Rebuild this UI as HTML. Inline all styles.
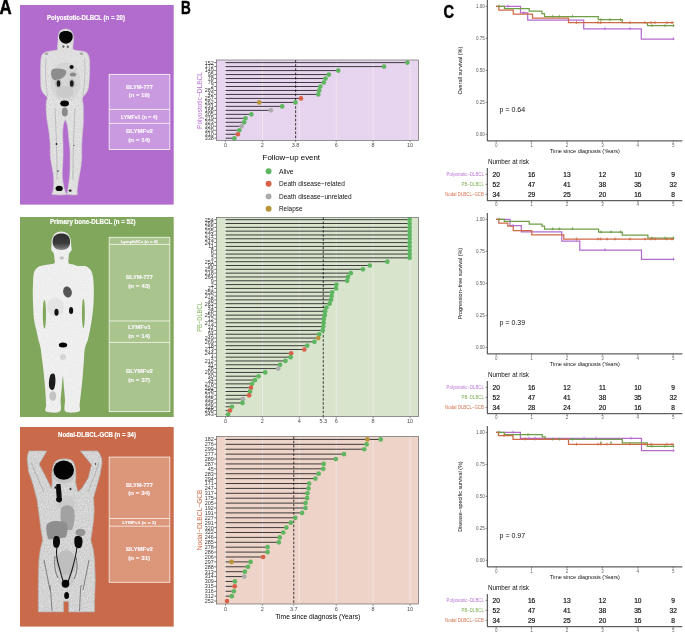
<!DOCTYPE html>
<html><head><meta charset="utf-8"><style>
html,body{margin:0;padding:0;background:#fff;width:685px;height:632px;overflow:hidden;}
svg{display:block;font-family:"Liberation Sans", sans-serif;will-change:transform;}
</style></head><body>
<svg width="685" height="632" viewBox="0 0 685 632">
<rect width="685" height="632" fill="#fff"/>
<text transform="translate(-0.6,13.7) scale(0.86,1)" font-weight="bold" font-size="19.6" fill="#000" stroke="#000" stroke-width="0.5">A</text>
<text transform="translate(180.9,13.8) scale(0.72,1)" font-weight="bold" font-size="18.8" fill="#000" stroke="#000" stroke-width="0.5">B</text>
<text transform="translate(443.6,18.4) scale(0.76,1)" font-weight="bold" font-size="19.2" fill="#000" stroke="#000" stroke-width="0.5">C</text>
<rect x="20" y="5" width="153.7" height="199.6" fill="#B26CCD"/>
<text x="47.1" y="19.8" textLength="77.8" lengthAdjust="spacingAndGlyphs" font-weight="bold" font-size="6.6" fill="#fff" stroke="#fff" stroke-width="0.15">Polyostotic-DLBCL (n = 20)</text>
<rect x="109.2" y="74.4" width="60.60000000000001" height="75.0" fill="#C99ADF" stroke="#f7f0f8" stroke-width="0.9"/>
<line x1="109.2" y1="109.4" x2="169.8" y2="109.4" stroke="#f7f0f8" stroke-width="0.9"/>
<line x1="109.2" y1="123.4" x2="169.8" y2="123.4" stroke="#f7f0f8" stroke-width="0.9"/>
<text x="125.90" y="89.04" textLength="27" lengthAdjust="spacingAndGlyphs" font-weight="bold" font-size="5.4" fill="#fbf6fc" stroke="#fbf6fc" stroke-width="0.12">BLYM-777</text>
<text x="128.70" y="97.14" textLength="21" lengthAdjust="spacingAndGlyphs" font-weight="bold" font-size="5.4" fill="#fbf6fc" stroke="#fbf6fc" stroke-width="0.12">(n = 19)</text>
<text x="120.95" y="118.50" textLength="36.5" lengthAdjust="spacingAndGlyphs" font-weight="bold" font-size="5.0" fill="#fbf6fc" stroke="#fbf6fc" stroke-width="0.12">LYMFv1 (n = 4)</text>
<text x="125.90" y="133.44" textLength="27" lengthAdjust="spacingAndGlyphs" font-weight="bold" font-size="5.4" fill="#fbf6fc" stroke="#fbf6fc" stroke-width="0.12">BLYMFv2</text>
<text x="128.20" y="141.94" textLength="22" lengthAdjust="spacingAndGlyphs" font-weight="bold" font-size="5.4" fill="#fbf6fc" stroke="#fbf6fc" stroke-width="0.12">(n = 14)</text>
<rect x="20" y="217" width="153.7" height="200" fill="#80A75B"/>
<text x="49.9" y="223.9" textLength="85.6" lengthAdjust="spacingAndGlyphs" font-weight="bold" font-size="6.6" fill="#fff" stroke="#fff" stroke-width="0.15">Primary bone-DLBCL (n = 52)</text>
<rect x="109.2" y="237.3" width="60.60000000000001" height="174.3" fill="#A9C48C" stroke="#f0f5ea" stroke-width="0.9"/>
<line x1="109.2" y1="244.4" x2="169.8" y2="244.4" stroke="#f0f5ea" stroke-width="0.9"/>
<line x1="109.2" y1="321" x2="169.8" y2="321" stroke="#f0f5ea" stroke-width="0.9"/>
<line x1="109.2" y1="342.4" x2="169.8" y2="342.4" stroke="#f0f5ea" stroke-width="0.9"/>
<text x="120.70" y="242.50" textLength="37" lengthAdjust="spacingAndGlyphs" font-weight="bold" font-size="3.9" fill="#fbf6fc" stroke="#fbf6fc" stroke-width="0.12">Lymph2Cx (n = 4)</text>
<text x="125.90" y="279.34" textLength="27" lengthAdjust="spacingAndGlyphs" font-weight="bold" font-size="5.4" fill="#fbf6fc" stroke="#fbf6fc" stroke-width="0.12">BLYM-777</text>
<text x="128.20" y="287.64" textLength="22" lengthAdjust="spacingAndGlyphs" font-weight="bold" font-size="5.4" fill="#fbf6fc" stroke="#fbf6fc" stroke-width="0.12">(n = 43)</text>
<text x="127.90" y="328.94" textLength="23" lengthAdjust="spacingAndGlyphs" font-weight="bold" font-size="5.4" fill="#fbf6fc" stroke="#fbf6fc" stroke-width="0.12">LYMFv1</text>
<text x="128.20" y="337.94" textLength="22" lengthAdjust="spacingAndGlyphs" font-weight="bold" font-size="5.4" fill="#fbf6fc" stroke="#fbf6fc" stroke-width="0.12">(n = 14)</text>
<text x="125.90" y="372.94" textLength="27" lengthAdjust="spacingAndGlyphs" font-weight="bold" font-size="5.4" fill="#fbf6fc" stroke="#fbf6fc" stroke-width="0.12">BLYMFv2</text>
<text x="128.20" y="381.54" textLength="22" lengthAdjust="spacingAndGlyphs" font-weight="bold" font-size="5.4" fill="#fbf6fc" stroke="#fbf6fc" stroke-width="0.12">(n = 37)</text>
<rect x="20" y="427" width="153.7" height="199.60000000000002" fill="#C96A4A"/>
<text x="58" y="437.0" textLength="78.0" lengthAdjust="spacingAndGlyphs" font-weight="bold" font-size="6.6" fill="#fff" stroke="#fff" stroke-width="0.15">Nodal-DLBCL-GCB (n = 34)</text>
<rect x="109.2" y="457.1" width="60.60000000000001" height="125.19999999999993" fill="#DC977A" stroke="#f8e9e2" stroke-width="0.9"/>
<line x1="109.2" y1="518.5" x2="169.8" y2="518.5" stroke="#f8e9e2" stroke-width="0.9"/>
<line x1="109.2" y1="526.2" x2="169.8" y2="526.2" stroke="#f8e9e2" stroke-width="0.9"/>
<text x="125.90" y="486.54" textLength="27" lengthAdjust="spacingAndGlyphs" font-weight="bold" font-size="5.4" fill="#fbf6fc" stroke="#fbf6fc" stroke-width="0.12">BLYM-777</text>
<text x="128.20" y="495.34" textLength="22" lengthAdjust="spacingAndGlyphs" font-weight="bold" font-size="5.4" fill="#fbf6fc" stroke="#fbf6fc" stroke-width="0.12">(n = 34)</text>
<text x="122.20" y="523.91" textLength="34" lengthAdjust="spacingAndGlyphs" font-weight="bold" font-size="4.2" fill="#fbf6fc" stroke="#fbf6fc" stroke-width="0.12">LYMFv1 (n = 3)</text>
<text x="125.90" y="550.74" textLength="27" lengthAdjust="spacingAndGlyphs" font-weight="bold" font-size="5.4" fill="#fbf6fc" stroke="#fbf6fc" stroke-width="0.12">BLYMFv2</text>
<text x="128.20" y="559.64" textLength="22" lengthAdjust="spacingAndGlyphs" font-weight="bold" font-size="5.4" fill="#fbf6fc" stroke="#fbf6fc" stroke-width="0.12">(n = 31)</text>
<defs><filter id="tex" x="0" y="0" width="100%" height="100%"><feTurbulence type="fractalNoise" baseFrequency="0.7" numOctaves="2" seed="3"/><feGaussianBlur stdDeviation="0.35"/><feColorMatrix values="0 0 0 0 0  0 0 0 0 0  0 0 0 0 0  0 0 0 -1.2 1.05"/></filter><clipPath id="cb1"><path id="pb1" d="M65.60 28.90 C63.82 28.90 61.53 29.62 60.30 30.80 C59.07 31.98 58.58 34.22 58.20 36.00 C57.82 37.78 58.13 39.83 58.00 41.50 C57.87 43.17 57.52 44.65 57.40 46.00 C57.28 47.35 58.12 48.82 57.30 49.60 C56.48 50.38 54.30 50.33 52.50 50.70 C50.70 51.07 48.15 51.22 46.50 51.80 C44.85 52.38 43.52 53.00 42.60 54.20 C41.68 55.40 41.33 56.37 41.00 59.00 C40.67 61.63 40.65 66.50 40.60 70.00 C40.55 73.50 40.60 76.88 40.70 80.00 C40.80 83.12 40.65 86.37 41.20 88.70 C41.75 91.03 43.00 92.53 44.00 94.00 C45.00 95.47 46.82 96.17 47.20 97.50 C47.58 98.83 46.47 99.92 46.30 102.00 C46.13 104.08 46.07 107.00 46.20 110.00 C46.33 113.00 46.68 116.67 47.10 120.00 C47.52 123.33 48.23 126.67 48.70 130.00 C49.17 133.33 49.63 137.00 49.90 140.00 C50.17 143.00 50.23 145.33 50.30 148.00 C50.37 150.67 50.07 153.17 50.30 156.00 C50.53 158.83 51.18 161.83 51.70 165.00 C52.22 168.17 53.05 171.67 53.40 175.00 C53.75 178.33 53.90 182.17 53.80 185.00 C53.70 187.83 52.97 190.40 52.80 192.00 C52.63 193.60 50.67 194.17 52.80 194.60 C54.93 195.03 63.57 195.20 65.60 194.60 C67.63 194.00 65.35 192.60 65.00 191.00 C64.65 189.40 63.97 187.67 63.50 185.00 C63.03 182.33 62.33 178.33 62.20 175.00 C62.07 171.67 62.55 168.33 62.70 165.00 C62.85 161.67 63.05 158.33 63.10 155.00 C63.15 151.67 63.07 148.33 63.00 145.00 C62.93 141.67 62.67 138.17 62.70 135.00 C62.73 131.83 62.78 128.52 63.20 126.00 C63.62 123.48 64.52 120.07 65.20 119.90 C65.88 119.73 66.80 122.98 67.30 125.00 C67.80 127.02 67.92 129.33 68.20 132.00 C68.48 134.67 68.70 138.00 69.00 141.00 C69.30 144.00 69.82 146.83 70.00 150.00 C70.18 153.17 70.10 156.67 70.10 160.00 C70.10 163.33 70.10 167.00 70.00 170.00 C69.90 173.00 69.75 175.50 69.50 178.00 C69.25 180.50 68.82 182.67 68.50 185.00 C68.18 187.33 67.75 190.40 67.60 192.00 C67.45 193.60 66.03 194.17 67.60 194.60 C69.17 195.03 75.43 195.03 77.00 194.60 C78.57 194.17 76.87 193.60 77.00 192.00 C77.13 190.40 77.40 187.83 77.80 185.00 C78.20 182.17 78.85 178.33 79.40 175.00 C79.95 171.67 80.70 168.33 81.10 165.00 C81.50 161.67 81.70 158.33 81.80 155.00 C81.90 151.67 81.62 148.33 81.70 145.00 C81.78 141.67 82.05 138.33 82.30 135.00 C82.55 131.67 83.02 128.33 83.20 125.00 C83.38 121.67 83.40 118.33 83.40 115.00 C83.40 111.67 83.37 107.83 83.20 105.00 C83.03 102.17 82.02 99.83 82.40 98.00 C82.78 96.17 84.53 95.55 85.50 94.00 C86.47 92.45 87.58 91.03 88.20 88.70 C88.82 86.37 88.95 83.12 89.20 80.00 C89.45 76.88 89.65 73.33 89.70 70.00 C89.75 66.67 89.78 62.58 89.50 60.00 C89.22 57.42 88.78 55.87 88.00 54.50 C87.22 53.13 86.38 52.43 84.80 51.80 C83.22 51.17 80.40 51.07 78.50 50.70 C76.60 50.33 74.33 50.38 73.40 49.60 C72.47 48.82 72.90 47.35 72.90 46.00 C72.90 44.65 73.33 43.17 73.40 41.50 C73.47 39.83 73.70 37.78 73.30 36.00 C72.90 34.22 72.28 31.98 71.00 30.80 C69.72 29.62 67.38 28.90 65.60 28.90 Z"/></clipPath><clipPath id="cb2"><path d="M61.20 231.50 C59.17 231.50 56.73 232.35 55.20 233.60 C53.67 234.85 52.62 237.02 52.00 239.00 C51.38 240.98 51.60 243.67 51.50 245.50 C51.40 247.33 51.02 248.67 51.40 250.00 C51.78 251.33 53.30 252.08 53.80 253.50 C54.30 254.92 54.30 256.88 54.40 258.50 C54.50 260.12 55.38 262.22 54.40 263.20 C53.42 264.18 50.48 264.00 48.50 264.40 C46.52 264.80 44.43 265.02 42.50 265.60 C40.57 266.18 38.35 266.58 36.90 267.90 C35.45 269.22 34.45 270.92 33.80 273.50 C33.15 276.08 33.17 279.82 33.00 283.40 C32.83 286.98 32.77 290.90 32.80 295.00 C32.83 299.10 32.98 303.83 33.20 308.00 C33.42 312.17 33.58 316.33 34.10 320.00 C34.62 323.67 35.57 326.67 36.30 330.00 C37.03 333.33 37.82 337.17 38.50 340.00 C39.18 342.83 39.90 344.50 40.40 347.00 C40.90 349.50 41.17 352.50 41.50 355.00 C41.83 357.50 42.05 359.17 42.40 362.00 C42.75 364.83 43.23 368.67 43.60 372.00 C43.97 375.33 44.27 378.17 44.60 382.00 C44.93 385.83 45.35 391.17 45.60 395.00 C45.85 398.83 45.98 402.23 46.10 405.00 C46.22 407.77 44.02 410.50 46.30 411.60 C48.58 412.70 57.42 413.53 59.80 411.60 C62.18 409.67 60.28 403.93 60.60 400.00 C60.92 396.07 61.32 391.92 61.70 388.00 C62.08 384.08 62.52 376.50 62.90 376.50 C63.28 376.50 63.65 384.08 64.00 388.00 C64.35 391.92 64.75 396.07 65.00 400.00 C65.25 403.93 63.18 409.67 65.50 411.60 C67.82 413.53 76.55 412.70 78.90 411.60 C81.25 410.50 79.30 407.77 79.60 405.00 C79.90 402.23 80.30 398.50 80.70 395.00 C81.10 391.50 81.62 387.83 82.00 384.00 C82.38 380.17 82.68 376.00 83.00 372.00 C83.32 368.00 83.65 363.50 83.90 360.00 C84.15 356.50 84.18 353.50 84.50 351.00 C84.82 348.50 85.25 346.83 85.80 345.00 C86.35 343.17 87.10 342.50 87.80 340.00 C88.50 337.50 89.35 333.33 90.00 330.00 C90.65 326.67 91.17 323.67 91.70 320.00 C92.23 316.33 92.85 312.17 93.20 308.00 C93.55 303.83 93.73 299.10 93.80 295.00 C93.87 290.90 93.77 286.57 93.60 283.40 C93.43 280.23 93.23 278.15 92.80 276.00 C92.37 273.85 92.02 272.08 91.00 270.50 C89.98 268.92 88.28 267.25 86.70 266.50 C85.12 265.75 83.17 266.12 81.50 266.00 C79.83 265.88 78.20 266.08 76.70 265.80 C75.20 265.52 73.85 264.73 72.50 264.30 C71.15 263.87 69.25 264.17 68.60 263.20 C67.95 262.23 68.50 260.12 68.60 258.50 C68.70 256.88 68.70 254.92 69.20 253.50 C69.70 252.08 71.27 251.33 71.60 250.00 C71.93 248.67 71.37 247.33 71.20 245.50 C71.03 243.67 71.23 240.98 70.60 239.00 C69.97 237.02 68.97 234.85 67.40 233.60 C65.83 232.35 63.23 231.50 61.20 231.50 Z"/></clipPath><clipPath id="cb3"><path d="M29.2 450.9 L46.9 450.9 L39.1 464 L46.3 477.9 L51.5 488.4 L52.2 482 C51.5 475 51.8 465 56 461 C59 458.5 68 458 72 460.5 C76 464 76.5 475 75.5 482 L77.8 491.8 L81.8 488.4 L88.3 477.9 L91.6 464.7 L80.4 450.9 L97.5 450.9 C100 453.5 102.1 458 102.1 462.1 L100.2 473.9 L96.2 488.4 L93.6 497.6 L94.2 510 L93.6 520 L92.3 530 L90.8 540 L93.4 550 L94.6 560 L95.3 580 L94.6 600 L94.6 611.9 L68.7 611.9 L68.7 601.4 L63.6 601.4 L63.6 611.9 L38.3 611.9 L38.3 600 L38.3 580 L38.9 560 L40.2 550 L42.7 540 L41 530 L39.7 520 L38.4 510 L37.1 500 L36.4 497.6 L33.1 484.4 L28.5 471.3 L27.2 459.5 C27.5 455 28 452.5 29.2 450.9 Z"/></clipPath></defs>
<path d="M65.60 28.90 C63.82 28.90 61.53 29.62 60.30 30.80 C59.07 31.98 58.58 34.22 58.20 36.00 C57.82 37.78 58.13 39.83 58.00 41.50 C57.87 43.17 57.52 44.65 57.40 46.00 C57.28 47.35 58.12 48.82 57.30 49.60 C56.48 50.38 54.30 50.33 52.50 50.70 C50.70 51.07 48.15 51.22 46.50 51.80 C44.85 52.38 43.52 53.00 42.60 54.20 C41.68 55.40 41.33 56.37 41.00 59.00 C40.67 61.63 40.65 66.50 40.60 70.00 C40.55 73.50 40.60 76.88 40.70 80.00 C40.80 83.12 40.65 86.37 41.20 88.70 C41.75 91.03 43.00 92.53 44.00 94.00 C45.00 95.47 46.82 96.17 47.20 97.50 C47.58 98.83 46.47 99.92 46.30 102.00 C46.13 104.08 46.07 107.00 46.20 110.00 C46.33 113.00 46.68 116.67 47.10 120.00 C47.52 123.33 48.23 126.67 48.70 130.00 C49.17 133.33 49.63 137.00 49.90 140.00 C50.17 143.00 50.23 145.33 50.30 148.00 C50.37 150.67 50.07 153.17 50.30 156.00 C50.53 158.83 51.18 161.83 51.70 165.00 C52.22 168.17 53.05 171.67 53.40 175.00 C53.75 178.33 53.90 182.17 53.80 185.00 C53.70 187.83 52.97 190.40 52.80 192.00 C52.63 193.60 50.67 194.17 52.80 194.60 C54.93 195.03 63.57 195.20 65.60 194.60 C67.63 194.00 65.35 192.60 65.00 191.00 C64.65 189.40 63.97 187.67 63.50 185.00 C63.03 182.33 62.33 178.33 62.20 175.00 C62.07 171.67 62.55 168.33 62.70 165.00 C62.85 161.67 63.05 158.33 63.10 155.00 C63.15 151.67 63.07 148.33 63.00 145.00 C62.93 141.67 62.67 138.17 62.70 135.00 C62.73 131.83 62.78 128.52 63.20 126.00 C63.62 123.48 64.52 120.07 65.20 119.90 C65.88 119.73 66.80 122.98 67.30 125.00 C67.80 127.02 67.92 129.33 68.20 132.00 C68.48 134.67 68.70 138.00 69.00 141.00 C69.30 144.00 69.82 146.83 70.00 150.00 C70.18 153.17 70.10 156.67 70.10 160.00 C70.10 163.33 70.10 167.00 70.00 170.00 C69.90 173.00 69.75 175.50 69.50 178.00 C69.25 180.50 68.82 182.67 68.50 185.00 C68.18 187.33 67.75 190.40 67.60 192.00 C67.45 193.60 66.03 194.17 67.60 194.60 C69.17 195.03 75.43 195.03 77.00 194.60 C78.57 194.17 76.87 193.60 77.00 192.00 C77.13 190.40 77.40 187.83 77.80 185.00 C78.20 182.17 78.85 178.33 79.40 175.00 C79.95 171.67 80.70 168.33 81.10 165.00 C81.50 161.67 81.70 158.33 81.80 155.00 C81.90 151.67 81.62 148.33 81.70 145.00 C81.78 141.67 82.05 138.33 82.30 135.00 C82.55 131.67 83.02 128.33 83.20 125.00 C83.38 121.67 83.40 118.33 83.40 115.00 C83.40 111.67 83.37 107.83 83.20 105.00 C83.03 102.17 82.02 99.83 82.40 98.00 C82.78 96.17 84.53 95.55 85.50 94.00 C86.47 92.45 87.58 91.03 88.20 88.70 C88.82 86.37 88.95 83.12 89.20 80.00 C89.45 76.88 89.65 73.33 89.70 70.00 C89.75 66.67 89.78 62.58 89.50 60.00 C89.22 57.42 88.78 55.87 88.00 54.50 C87.22 53.13 86.38 52.43 84.80 51.80 C83.22 51.17 80.40 51.07 78.50 50.70 C76.60 50.33 74.33 50.38 73.40 49.60 C72.47 48.82 72.90 47.35 72.90 46.00 C72.90 44.65 73.33 43.17 73.40 41.50 C73.47 39.83 73.70 37.78 73.30 36.00 C72.90 34.22 72.28 31.98 71.00 30.80 C69.72 29.62 67.38 28.90 65.60 28.90 Z" fill="#ececec" stroke="#d5d5d5" stroke-width="0.5"/>
<g clip-path="url(#cb1)">
<rect x="35" y="28" width="60" height="170" filter="url(#tex)" opacity="0.12"/>
<ellipse cx="65.5" cy="82" rx="15" ry="20" fill="#c9c9c9" opacity="0.45"/>
<path d="M46 58 C45 70 45.5 82 47.5 96 M84.5 58 C85.5 70 85 82 83 96" stroke="#b5b5b5" stroke-width="0.7" fill="none"/>
<path d="M51.1 72 C51.5 68 56 68.3 60 68.8 C64 69 66.3 70 66.3 72 C66 76 62 79 57 80.2 C53 81 51 78 51.1 72 Z" fill="#8d8d8d"/>
<ellipse cx="73" cy="74.5" rx="3.2" ry="2" fill="#8a8a8a"/>
<ellipse cx="71.6" cy="66.9" rx="2.1" ry="2" fill="#111"/>
<ellipse cx="58.3" cy="83.5" rx="3.2" ry="4.5" fill="#b0b0b0" opacity="0.7"/><ellipse cx="58.5" cy="83.5" rx="1.8" ry="3.2" fill="#1a1a1a"/>
<ellipse cx="72" cy="83.5" rx="3.2" ry="4.5" fill="#b0b0b0" opacity="0.7"/><ellipse cx="71.8" cy="83.5" rx="1.8" ry="3.2" fill="#1a1a1a"/>
<ellipse cx="65" cy="92" rx="9" ry="6" fill="#b8b8b8" opacity="0.35"/>
<ellipse cx="64.8" cy="112" rx="3" ry="4.5" fill="#8a8a8a"/>
<path d="M55 108 C56 130 57 150 57 180 M75 108 C74 130 73 150 73 180" stroke="#a5a5a5" stroke-width="0.6" fill="none"/>
</g>
<path d="M59.1 36.8 C59.1 32.6 62 31.1 65.8 31.1 C69.7 31.1 72.7 32.6 72.7 36.8 C72.7 40.6 69.6 43.7 66 43.7 C62.3 43.7 59.1 40.6 59.1 36.8 Z" fill="#050505"/>
<ellipse cx="63.4" cy="46.6" rx="1.1" ry="1.4" fill="#666"/><ellipse cx="67.8" cy="46.8" rx="1.1" ry="1.4" fill="#666"/>
<ellipse cx="46.5" cy="53.8" rx="1.8" ry="1.3" fill="#aaa"/><ellipse cx="81.5" cy="53.8" rx="1.8" ry="1.3" fill="#aaa"/>
<ellipse cx="64.6" cy="103.5" rx="4.4" ry="3.0" fill="#050505"/>
<ellipse cx="59.2" cy="188.4" rx="3.6" ry="2.6" fill="#050505"/>
<ellipse cx="70.2" cy="190.6" rx="1.4" ry="1.2" fill="#222"/>
<circle cx="56.5" cy="144" r="0.9" fill="#222"/><circle cx="58" cy="171" r="0.8" fill="#333"/><circle cx="74" cy="145.5" r="0.6" fill="#333"/>
<path d="M61.20 231.50 C59.17 231.50 56.73 232.35 55.20 233.60 C53.67 234.85 52.62 237.02 52.00 239.00 C51.38 240.98 51.60 243.67 51.50 245.50 C51.40 247.33 51.02 248.67 51.40 250.00 C51.78 251.33 53.30 252.08 53.80 253.50 C54.30 254.92 54.30 256.88 54.40 258.50 C54.50 260.12 55.38 262.22 54.40 263.20 C53.42 264.18 50.48 264.00 48.50 264.40 C46.52 264.80 44.43 265.02 42.50 265.60 C40.57 266.18 38.35 266.58 36.90 267.90 C35.45 269.22 34.45 270.92 33.80 273.50 C33.15 276.08 33.17 279.82 33.00 283.40 C32.83 286.98 32.77 290.90 32.80 295.00 C32.83 299.10 32.98 303.83 33.20 308.00 C33.42 312.17 33.58 316.33 34.10 320.00 C34.62 323.67 35.57 326.67 36.30 330.00 C37.03 333.33 37.82 337.17 38.50 340.00 C39.18 342.83 39.90 344.50 40.40 347.00 C40.90 349.50 41.17 352.50 41.50 355.00 C41.83 357.50 42.05 359.17 42.40 362.00 C42.75 364.83 43.23 368.67 43.60 372.00 C43.97 375.33 44.27 378.17 44.60 382.00 C44.93 385.83 45.35 391.17 45.60 395.00 C45.85 398.83 45.98 402.23 46.10 405.00 C46.22 407.77 44.02 410.50 46.30 411.60 C48.58 412.70 57.42 413.53 59.80 411.60 C62.18 409.67 60.28 403.93 60.60 400.00 C60.92 396.07 61.32 391.92 61.70 388.00 C62.08 384.08 62.52 376.50 62.90 376.50 C63.28 376.50 63.65 384.08 64.00 388.00 C64.35 391.92 64.75 396.07 65.00 400.00 C65.25 403.93 63.18 409.67 65.50 411.60 C67.82 413.53 76.55 412.70 78.90 411.60 C81.25 410.50 79.30 407.77 79.60 405.00 C79.90 402.23 80.30 398.50 80.70 395.00 C81.10 391.50 81.62 387.83 82.00 384.00 C82.38 380.17 82.68 376.00 83.00 372.00 C83.32 368.00 83.65 363.50 83.90 360.00 C84.15 356.50 84.18 353.50 84.50 351.00 C84.82 348.50 85.25 346.83 85.80 345.00 C86.35 343.17 87.10 342.50 87.80 340.00 C88.50 337.50 89.35 333.33 90.00 330.00 C90.65 326.67 91.17 323.67 91.70 320.00 C92.23 316.33 92.85 312.17 93.20 308.00 C93.55 303.83 93.73 299.10 93.80 295.00 C93.87 290.90 93.77 286.57 93.60 283.40 C93.43 280.23 93.23 278.15 92.80 276.00 C92.37 273.85 92.02 272.08 91.00 270.50 C89.98 268.92 88.28 267.25 86.70 266.50 C85.12 265.75 83.17 266.12 81.50 266.00 C79.83 265.88 78.20 266.08 76.70 265.80 C75.20 265.52 73.85 264.73 72.50 264.30 C71.15 263.87 69.25 264.17 68.60 263.20 C67.95 262.23 68.50 260.12 68.60 258.50 C68.70 256.88 68.70 254.92 69.20 253.50 C69.70 252.08 71.27 251.33 71.60 250.00 C71.93 248.67 71.37 247.33 71.20 245.50 C71.03 243.67 71.23 240.98 70.60 239.00 C69.97 237.02 68.97 234.85 67.40 233.60 C65.83 232.35 63.23 231.50 61.20 231.50 Z" fill="#f4f4f4"/>
<g clip-path="url(#cb2)">
<rect x="30" y="230" width="66" height="185" filter="url(#tex)" opacity="0.05"/>
<defs><linearGradient id="gbr" x1="0" y1="0" x2="0" y2="1"><stop offset="0" stop-color="#2e2e2e"/><stop offset="0.6" stop-color="#3c3c3c"/><stop offset="1" stop-color="#8a8a8a"/></linearGradient></defs>
<path d="M52.6 241.5 C52.6 236 56.3 233.4 61.4 233.4 C66.5 233.4 70.1 236 70.1 241.5 C70.1 247 67.2 250 61.4 250 C55.6 250 52.6 247 52.6 241.5 Z" fill="url(#gbr)"/>
<ellipse cx="61.4" cy="246" rx="4" ry="1.5" fill="#555" opacity="0.6"/>
<ellipse cx="61.8" cy="257.9" rx="2.2" ry="1.6" fill="#c2c2c2"/>
<ellipse cx="55.5" cy="307" rx="8.5" ry="9.5" fill="#e4e4e4"/>
<ellipse cx="63" cy="357" rx="3" ry="3" fill="#d5d5d5"/>
</g>
<ellipse cx="44.4" cy="314.2" rx="1.6" ry="14.3" fill="#80A75B"/>
<ellipse cx="83.4" cy="313.4" rx="1.45" ry="14.6" fill="#80A75B"/>
<ellipse cx="67.5" cy="292" rx="4.3" ry="5.6" transform="rotate(-15 67.5 292)" fill="#555"/>
<ellipse cx="56.5" cy="312.2" rx="2.1" ry="3.5" fill="#111"/>
<ellipse cx="71.1" cy="310.4" rx="2.1" ry="3.5" fill="#111"/>
<ellipse cx="63" cy="345.1" rx="4.2" ry="2.5" fill="#050505"/>
<path d="M50 376 C50.5 373.5 54 372.5 54.8 375 C56 379 55.5 386 54 389 C52 391 49.5 389.5 49 386 C48.6 382 49.3 378.5 50 376 Z" fill="#1c1c1c"/>
<ellipse cx="52.8" cy="396" rx="3.4" ry="4.8" fill="#c4c4c4"/>
<path d="M29.2 450.9 L46.9 450.9 L39.1 464 L46.3 477.9 L51.5 488.4 L52.2 482 C51.5 475 51.8 465 56 461 C59 458.5 68 458 72 460.5 C76 464 76.5 475 75.5 482 L77.8 491.8 L81.8 488.4 L88.3 477.9 L91.6 464.7 L80.4 450.9 L97.5 450.9 C100 453.5 102.1 458 102.1 462.1 L100.2 473.9 L96.2 488.4 L93.6 497.6 L94.2 510 L93.6 520 L92.3 530 L90.8 540 L93.4 550 L94.6 560 L95.3 580 L94.6 600 L94.6 611.9 L68.7 611.9 L68.7 601.4 L63.6 601.4 L63.6 611.9 L38.3 611.9 L38.3 600 L38.3 580 L38.9 560 L40.2 550 L42.7 540 L41 530 L39.7 520 L38.4 510 L37.1 500 L36.4 497.6 L33.1 484.4 L28.5 471.3 L27.2 459.5 C27.5 455 28 452.5 29.2 450.9 Z" fill="#e5e5e5" stroke="#b5b5b5" stroke-width="0.6"/>
<g clip-path="url(#cb3)">
<rect x="25" y="450" width="80" height="165" filter="url(#tex)" opacity="0.17"/>
<ellipse cx="66" cy="503" rx="9" ry="7" fill="#c8c8c8" opacity="0.8"/>
<path d="M61 509 C63 504 72 504 74 510 C75.5 516 74.5 524 72 530 L63 530 C60.5 524 60 515 61 509 Z" fill="#a2a2a2"/>
<path d="M46.5 525 C49 520.5 58 520 66 522.5 C68.5 526 68 533 65.5 537.5 L48.5 539.5 C46.5 535 45.8 529 46.5 525 Z" fill="#8e8e8e"/>
<ellipse cx="80.5" cy="532.5" rx="5" ry="3.8" fill="#959595"/>
<ellipse cx="66" cy="563" rx="10" ry="13" fill="#b9b9b9" opacity="0.8"/>
<ellipse cx="66" cy="580" rx="8" ry="6" fill="#c8c8c8" opacity="0.8"/>
<path d="M57 547 C55 556 58 563 60 570 C61 575 62.5 579 63.5 582 M77 547 C76 556 74 563 72 570 C70.5 575 69 579 68 582" stroke="#1a1a1a" stroke-width="1.1" fill="none"/>
<path d="M55 556 C54 565 55 572 58 578 M76 557 C78 566 77 573 74 579" stroke="#555" stroke-width="0.8" fill="none"/>
<path d="M50 585 C51 595 51.5 603 52 611 M81 585 C80 595 80 603 79.5 611 M44 560 C46 570 48 580 50 590 M89 560 C87 570 85 580 83 590" stroke="#6a6a6a" stroke-width="0.8" fill="none"/>
<path d="M31 462 C35 472 39 482 44 492 M99 462 C96 472 92 482 88 492" stroke="#aaa" stroke-width="0.8" fill="none"/>
<ellipse cx="63.7" cy="474" rx="11.2" ry="9.5" fill="#c4c4c4"/>
</g>
<ellipse cx="63.7" cy="470.1" rx="10.3" ry="9.6" fill="#030303"/>
<path d="M56.5 484 C55.5 488 56.5 494 56.8 499 C57 503 61 504 61.5 500 C62 495 61 489 60.5 484 Z" fill="#0a0a0a"/><ellipse cx="59" cy="499.5" rx="3" ry="2.5" fill="#0a0a0a"/>
<ellipse cx="55.6" cy="487.5" rx="1.2" ry="1.2" fill="#222"/><ellipse cx="70.5" cy="489" rx="1" ry="1.3" fill="#333"/>
<path d="M54 537 C55 535.5 58.5 535.5 59.5 538 C60.5 541 60 545 58.5 547 C57 548.5 54.5 548 53.5 546 C52.5 543 53 539 54 537 Z" fill="#0a0a0a"/>
<path d="M75 537 C76.5 535.5 80.5 535.5 82 538 C83 541 82.5 545 81 547.5 C79 548.8 76 548 75 546 C74 543 74 539 75 537 Z" fill="#0a0a0a"/>
<ellipse cx="65.5" cy="583.7" rx="3.8" ry="4" fill="#050505"/>
<ellipse cx="66.6" cy="595.5" rx="2.4" ry="3.6" fill="#050505"/>
<circle cx="95.5" cy="464" r="0.7" fill="#111"/>
<rect x="216.4" y="60" width="202.20000000000002" height="80.4" fill="#E7D4EF"/>
<line x1="225.50" y1="60" x2="225.50" y2="140.4" stroke="#f6f6f6" stroke-width="0.55"/>
<line x1="262.40" y1="60" x2="262.40" y2="140.4" stroke="#f6f6f6" stroke-width="0.55"/>
<line x1="299.30" y1="60" x2="299.30" y2="140.4" stroke="#f6f6f6" stroke-width="0.55"/>
<line x1="336.20" y1="60" x2="336.20" y2="140.4" stroke="#f6f6f6" stroke-width="0.55"/>
<line x1="373.10" y1="60" x2="373.10" y2="140.4" stroke="#f6f6f6" stroke-width="0.55"/>
<line x1="410.00" y1="60" x2="410.00" y2="140.4" stroke="#f6f6f6" stroke-width="0.55"/>
<line x1="225.5" y1="62.61" x2="407.42" y2="62.61" stroke="#333" stroke-width="0.95"/>
<line x1="225.5" y1="66.59" x2="383.99" y2="66.59" stroke="#333" stroke-width="0.95"/>
<line x1="225.5" y1="70.57" x2="338.23" y2="70.57" stroke="#333" stroke-width="0.95"/>
<line x1="225.5" y1="74.55" x2="328.82" y2="74.55" stroke="#333" stroke-width="0.95"/>
<line x1="225.5" y1="78.53" x2="325.50" y2="78.53" stroke="#333" stroke-width="0.95"/>
<line x1="225.5" y1="82.51" x2="323.84" y2="82.51" stroke="#333" stroke-width="0.95"/>
<line x1="225.5" y1="86.49" x2="320.33" y2="86.49" stroke="#333" stroke-width="0.95"/>
<line x1="225.5" y1="90.47" x2="319.23" y2="90.47" stroke="#333" stroke-width="0.95"/>
<line x1="225.5" y1="94.45" x2="318.30" y2="94.45" stroke="#333" stroke-width="0.95"/>
<line x1="225.5" y1="98.43" x2="300.96" y2="98.43" stroke="#333" stroke-width="0.95"/>
<line x1="225.5" y1="102.41" x2="295.43" y2="102.41" stroke="#333" stroke-width="0.95"/>
<line x1="225.5" y1="106.39" x2="282.14" y2="106.39" stroke="#333" stroke-width="0.95"/>
<line x1="225.5" y1="110.37" x2="270.89" y2="110.37" stroke="#333" stroke-width="0.95"/>
<line x1="225.5" y1="114.35" x2="251.33" y2="114.35" stroke="#333" stroke-width="0.95"/>
<line x1="225.5" y1="118.33" x2="245.43" y2="118.33" stroke="#333" stroke-width="0.95"/>
<line x1="225.5" y1="122.31" x2="244.13" y2="122.31" stroke="#333" stroke-width="0.95"/>
<line x1="225.5" y1="126.29" x2="241.55" y2="126.29" stroke="#333" stroke-width="0.95"/>
<line x1="225.5" y1="130.27" x2="239.34" y2="130.27" stroke="#333" stroke-width="0.95"/>
<line x1="225.5" y1="134.25" x2="237.86" y2="134.25" stroke="#333" stroke-width="0.95"/>
<line x1="225.5" y1="138.23" x2="234.36" y2="138.23" stroke="#333" stroke-width="0.95"/>
<line x1="295.61" y1="60" x2="295.61" y2="140.4" stroke="#111" stroke-width="0.8" stroke-dasharray="2.6,1.6"/>
<circle cx="407.42" cy="62.61" r="2.35" fill="#5FB661"/>
<circle cx="383.99" cy="66.59" r="2.35" fill="#5FB661"/>
<circle cx="338.23" cy="70.57" r="2.35" fill="#5FB661"/>
<circle cx="328.82" cy="74.55" r="2.35" fill="#5FB661"/>
<circle cx="325.50" cy="78.53" r="2.35" fill="#5FB661"/>
<circle cx="323.84" cy="82.51" r="2.35" fill="#5FB661"/>
<circle cx="320.33" cy="86.49" r="2.35" fill="#5FB661"/>
<circle cx="319.23" cy="90.47" r="2.35" fill="#5FB661"/>
<circle cx="318.30" cy="94.45" r="2.35" fill="#5FB661"/>
<circle cx="300.96" cy="98.43" r="2.35" fill="#D9604A"/>
<circle cx="259.26" cy="102.41" r="2.35" fill="#B8953A"/>
<circle cx="295.43" cy="102.41" r="2.35" fill="#5FB661"/>
<circle cx="282.14" cy="106.39" r="2.35" fill="#5FB661"/>
<circle cx="270.89" cy="110.37" r="2.35" fill="#ABABAB"/>
<circle cx="251.33" cy="114.35" r="2.35" fill="#5FB661"/>
<circle cx="245.43" cy="118.33" r="2.35" fill="#5FB661"/>
<circle cx="244.13" cy="122.31" r="2.35" fill="#5FB661"/>
<circle cx="241.55" cy="126.29" r="2.35" fill="#ABABAB"/>
<circle cx="239.34" cy="130.27" r="2.35" fill="#5FB661"/>
<circle cx="237.86" cy="134.25" r="2.35" fill="#D9604A"/>
<circle cx="234.36" cy="138.23" r="2.35" fill="#5FB661"/>
<rect x="216.4" y="60" width="202.20000000000002" height="80.4" fill="none" stroke="#555" stroke-width="0.6"/>
<line x1="214.3" y1="62.61" x2="216.4" y2="62.61" stroke="#333" stroke-width="0.7"/>
<text x="213.8" y="64.51" font-size="5.4" fill="#333" text-anchor="end">152</text>
<line x1="214.3" y1="66.59" x2="216.4" y2="66.59" stroke="#333" stroke-width="0.7"/>
<text x="213.8" y="68.49" font-size="5.4" fill="#333" text-anchor="end">172</text>
<line x1="214.3" y1="70.57" x2="216.4" y2="70.57" stroke="#333" stroke-width="0.7"/>
<text x="213.8" y="72.47" font-size="5.4" fill="#333" text-anchor="end">149</text>
<line x1="214.3" y1="74.55" x2="216.4" y2="74.55" stroke="#333" stroke-width="0.7"/>
<text x="213.8" y="76.45" font-size="5.4" fill="#333" text-anchor="end">95</text>
<line x1="214.3" y1="78.53" x2="216.4" y2="78.53" stroke="#333" stroke-width="0.7"/>
<text x="213.8" y="80.43" font-size="5.4" fill="#333" text-anchor="end">78</text>
<line x1="214.3" y1="82.51" x2="216.4" y2="82.51" stroke="#333" stroke-width="0.7"/>
<text x="213.8" y="84.41" font-size="5.4" fill="#333" text-anchor="end">76</text>
<line x1="214.3" y1="86.49" x2="216.4" y2="86.49" stroke="#333" stroke-width="0.7"/>
<text x="213.8" y="88.39" font-size="5.4" fill="#333" text-anchor="end">2</text>
<line x1="214.3" y1="90.47" x2="216.4" y2="90.47" stroke="#333" stroke-width="0.7"/>
<text x="213.8" y="92.37" font-size="5.4" fill="#333" text-anchor="end">283</text>
<line x1="214.3" y1="94.45" x2="216.4" y2="94.45" stroke="#333" stroke-width="0.7"/>
<text x="213.8" y="96.35" font-size="5.4" fill="#333" text-anchor="end">42</text>
<line x1="214.3" y1="98.43" x2="216.4" y2="98.43" stroke="#333" stroke-width="0.7"/>
<text x="213.8" y="100.33" font-size="5.4" fill="#333" text-anchor="end">257</text>
<line x1="214.3" y1="102.41" x2="216.4" y2="102.41" stroke="#333" stroke-width="0.7"/>
<text x="213.8" y="104.31" font-size="5.4" fill="#333" text-anchor="end">262</text>
<line x1="214.3" y1="106.39" x2="216.4" y2="106.39" stroke="#333" stroke-width="0.7"/>
<text x="213.8" y="108.29" font-size="5.4" fill="#333" text-anchor="end">231</text>
<line x1="214.3" y1="110.37" x2="216.4" y2="110.37" stroke="#333" stroke-width="0.7"/>
<text x="213.8" y="112.27" font-size="5.4" fill="#333" text-anchor="end">168</text>
<line x1="214.3" y1="114.35" x2="216.4" y2="114.35" stroke="#333" stroke-width="0.7"/>
<text x="213.8" y="116.25" font-size="5.4" fill="#333" text-anchor="end">305</text>
<line x1="214.3" y1="118.33" x2="216.4" y2="118.33" stroke="#333" stroke-width="0.7"/>
<text x="213.8" y="120.23" font-size="5.4" fill="#333" text-anchor="end">219</text>
<line x1="214.3" y1="122.31" x2="216.4" y2="122.31" stroke="#333" stroke-width="0.7"/>
<text x="213.8" y="124.21" font-size="5.4" fill="#333" text-anchor="end">323</text>
<line x1="214.3" y1="126.29" x2="216.4" y2="126.29" stroke="#333" stroke-width="0.7"/>
<text x="213.8" y="128.19" font-size="5.4" fill="#333" text-anchor="end">320</text>
<line x1="214.3" y1="130.27" x2="216.4" y2="130.27" stroke="#333" stroke-width="0.7"/>
<text x="213.8" y="132.17" font-size="5.4" fill="#333" text-anchor="end">329</text>
<line x1="214.3" y1="134.25" x2="216.4" y2="134.25" stroke="#333" stroke-width="0.7"/>
<text x="213.8" y="136.15" font-size="5.4" fill="#333" text-anchor="end">310</text>
<line x1="214.3" y1="138.23" x2="216.4" y2="138.23" stroke="#333" stroke-width="0.7"/>
<text x="213.8" y="140.13" font-size="5.4" fill="#333" text-anchor="end">338</text>
<line x1="225.50" y1="140.4" x2="225.50" y2="142.20000000000002" stroke="#333" stroke-width="0.5"/>
<text x="225.50" y="147.40" font-size="5.5" fill="#4d4d4d" text-anchor="middle">0</text>
<line x1="262.40" y1="140.4" x2="262.40" y2="142.20000000000002" stroke="#333" stroke-width="0.5"/>
<text x="262.40" y="147.40" font-size="5.5" fill="#4d4d4d" text-anchor="middle">2</text>
<line x1="295.61" y1="140.4" x2="295.61" y2="142.20000000000002" stroke="#333" stroke-width="0.5"/>
<text x="295.61" y="147.40" font-size="5.5" fill="#4d4d4d" text-anchor="middle">3.8</text>
<line x1="336.20" y1="140.4" x2="336.20" y2="142.20000000000002" stroke="#333" stroke-width="0.5"/>
<text x="336.20" y="147.40" font-size="5.5" fill="#4d4d4d" text-anchor="middle">6</text>
<line x1="373.10" y1="140.4" x2="373.10" y2="142.20000000000002" stroke="#333" stroke-width="0.5"/>
<text x="373.10" y="147.40" font-size="5.5" fill="#4d4d4d" text-anchor="middle">8</text>
<line x1="410.00" y1="140.4" x2="410.00" y2="142.20000000000002" stroke="#333" stroke-width="0.5"/>
<text x="410.00" y="147.40" font-size="5.5" fill="#4d4d4d" text-anchor="middle">10</text>
<text transform="translate(201.5,100.5) rotate(-90)" x="0" y="0" font-size="7.0" fill="#B873D6" text-anchor="middle" textLength="57" lengthAdjust="spacingAndGlyphs">Polyostotic−DLBCL</text>
<rect x="216.4" y="217.4" width="202.20000000000002" height="199.29999999999998" fill="#D8E4CC"/>
<line x1="225.50" y1="217.4" x2="225.50" y2="416.7" stroke="#f6f6f6" stroke-width="0.55"/>
<line x1="262.40" y1="217.4" x2="262.40" y2="416.7" stroke="#f6f6f6" stroke-width="0.55"/>
<line x1="299.30" y1="217.4" x2="299.30" y2="416.7" stroke="#f6f6f6" stroke-width="0.55"/>
<line x1="336.20" y1="217.4" x2="336.20" y2="416.7" stroke="#f6f6f6" stroke-width="0.55"/>
<line x1="373.10" y1="217.4" x2="373.10" y2="416.7" stroke="#f6f6f6" stroke-width="0.55"/>
<line x1="410.00" y1="217.4" x2="410.00" y2="416.7" stroke="#f6f6f6" stroke-width="0.55"/>
<line x1="225.5" y1="219.69" x2="409.63" y2="219.69" stroke="#333" stroke-width="0.95"/>
<line x1="225.5" y1="223.51" x2="409.63" y2="223.51" stroke="#333" stroke-width="0.95"/>
<line x1="225.5" y1="227.33" x2="409.63" y2="227.33" stroke="#333" stroke-width="0.95"/>
<line x1="225.5" y1="231.14" x2="409.63" y2="231.14" stroke="#333" stroke-width="0.95"/>
<line x1="225.5" y1="234.96" x2="409.63" y2="234.96" stroke="#333" stroke-width="0.95"/>
<line x1="225.5" y1="238.78" x2="409.63" y2="238.78" stroke="#333" stroke-width="0.95"/>
<line x1="225.5" y1="242.60" x2="409.63" y2="242.60" stroke="#333" stroke-width="0.95"/>
<line x1="225.5" y1="246.42" x2="409.63" y2="246.42" stroke="#333" stroke-width="0.95"/>
<line x1="225.5" y1="250.23" x2="409.63" y2="250.23" stroke="#333" stroke-width="0.95"/>
<line x1="225.5" y1="254.05" x2="409.63" y2="254.05" stroke="#333" stroke-width="0.95"/>
<line x1="225.5" y1="257.87" x2="409.63" y2="257.87" stroke="#333" stroke-width="0.95"/>
<line x1="225.5" y1="261.69" x2="387.31" y2="261.69" stroke="#333" stroke-width="0.95"/>
<line x1="225.5" y1="265.51" x2="369.78" y2="265.51" stroke="#333" stroke-width="0.95"/>
<line x1="225.5" y1="269.32" x2="362.95" y2="269.32" stroke="#333" stroke-width="0.95"/>
<line x1="225.5" y1="273.14" x2="350.78" y2="273.14" stroke="#333" stroke-width="0.95"/>
<line x1="225.5" y1="276.96" x2="348.01" y2="276.96" stroke="#333" stroke-width="0.95"/>
<line x1="225.5" y1="280.78" x2="347.09" y2="280.78" stroke="#333" stroke-width="0.95"/>
<line x1="225.5" y1="284.60" x2="336.38" y2="284.60" stroke="#333" stroke-width="0.95"/>
<line x1="225.5" y1="288.41" x2="336.02" y2="288.41" stroke="#333" stroke-width="0.95"/>
<line x1="225.5" y1="292.23" x2="332.14" y2="292.23" stroke="#333" stroke-width="0.95"/>
<line x1="225.5" y1="296.05" x2="331.59" y2="296.05" stroke="#333" stroke-width="0.95"/>
<line x1="225.5" y1="299.87" x2="331.03" y2="299.87" stroke="#333" stroke-width="0.95"/>
<line x1="225.5" y1="303.69" x2="329.56" y2="303.69" stroke="#333" stroke-width="0.95"/>
<line x1="225.5" y1="307.50" x2="326.42" y2="307.50" stroke="#333" stroke-width="0.95"/>
<line x1="225.5" y1="311.32" x2="325.13" y2="311.32" stroke="#333" stroke-width="0.95"/>
<line x1="225.5" y1="315.14" x2="324.76" y2="315.14" stroke="#333" stroke-width="0.95"/>
<line x1="225.5" y1="318.96" x2="323.84" y2="318.96" stroke="#333" stroke-width="0.95"/>
<line x1="225.5" y1="322.78" x2="323.65" y2="322.78" stroke="#333" stroke-width="0.95"/>
<line x1="225.5" y1="326.60" x2="323.28" y2="326.60" stroke="#333" stroke-width="0.95"/>
<line x1="225.5" y1="330.41" x2="322.73" y2="330.41" stroke="#333" stroke-width="0.95"/>
<line x1="225.5" y1="334.23" x2="319.23" y2="334.23" stroke="#333" stroke-width="0.95"/>
<line x1="225.5" y1="338.05" x2="318.30" y2="338.05" stroke="#333" stroke-width="0.95"/>
<line x1="225.5" y1="341.87" x2="314.43" y2="341.87" stroke="#333" stroke-width="0.95"/>
<line x1="225.5" y1="345.69" x2="307.23" y2="345.69" stroke="#333" stroke-width="0.95"/>
<line x1="225.5" y1="349.50" x2="304.28" y2="349.50" stroke="#333" stroke-width="0.95"/>
<line x1="225.5" y1="353.32" x2="291.18" y2="353.32" stroke="#333" stroke-width="0.95"/>
<line x1="225.5" y1="357.14" x2="290.63" y2="357.14" stroke="#333" stroke-width="0.95"/>
<line x1="225.5" y1="360.96" x2="285.46" y2="360.96" stroke="#333" stroke-width="0.95"/>
<line x1="225.5" y1="364.78" x2="280.11" y2="364.78" stroke="#333" stroke-width="0.95"/>
<line x1="225.5" y1="368.59" x2="278.27" y2="368.59" stroke="#333" stroke-width="0.95"/>
<line x1="225.5" y1="372.41" x2="265.17" y2="372.41" stroke="#333" stroke-width="0.95"/>
<line x1="225.5" y1="376.23" x2="258.53" y2="376.23" stroke="#333" stroke-width="0.95"/>
<line x1="225.5" y1="380.05" x2="255.02" y2="380.05" stroke="#333" stroke-width="0.95"/>
<line x1="225.5" y1="383.87" x2="252.07" y2="383.87" stroke="#333" stroke-width="0.95"/>
<line x1="225.5" y1="387.68" x2="250.96" y2="387.68" stroke="#333" stroke-width="0.95"/>
<line x1="225.5" y1="391.50" x2="250.04" y2="391.50" stroke="#333" stroke-width="0.95"/>
<line x1="225.5" y1="395.32" x2="249.12" y2="395.32" stroke="#333" stroke-width="0.95"/>
<line x1="225.5" y1="399.14" x2="242.84" y2="399.14" stroke="#333" stroke-width="0.95"/>
<line x1="225.5" y1="402.96" x2="242.47" y2="402.96" stroke="#333" stroke-width="0.95"/>
<line x1="225.5" y1="406.77" x2="231.96" y2="406.77" stroke="#333" stroke-width="0.95"/>
<line x1="225.5" y1="410.59" x2="229.93" y2="410.59" stroke="#333" stroke-width="0.95"/>
<line x1="225.5" y1="414.41" x2="228.08" y2="414.41" stroke="#333" stroke-width="0.95"/>
<line x1="323.28" y1="217.4" x2="323.28" y2="416.7" stroke="#111" stroke-width="0.8" stroke-dasharray="2.6,1.6"/>
<circle cx="409.63" cy="219.69" r="2.35" fill="#5FB661"/>
<circle cx="409.63" cy="223.51" r="2.35" fill="#5FB661"/>
<circle cx="409.63" cy="227.33" r="2.35" fill="#5FB661"/>
<circle cx="409.63" cy="231.14" r="2.35" fill="#5FB661"/>
<circle cx="409.63" cy="234.96" r="2.35" fill="#5FB661"/>
<circle cx="409.63" cy="238.78" r="2.35" fill="#5FB661"/>
<circle cx="409.63" cy="242.60" r="2.35" fill="#5FB661"/>
<circle cx="409.63" cy="246.42" r="2.35" fill="#5FB661"/>
<circle cx="409.63" cy="250.23" r="2.35" fill="#5FB661"/>
<circle cx="409.63" cy="254.05" r="2.35" fill="#5FB661"/>
<circle cx="409.63" cy="257.87" r="2.35" fill="#5FB661"/>
<circle cx="387.31" cy="261.69" r="2.35" fill="#5FB661"/>
<circle cx="369.78" cy="265.51" r="2.35" fill="#5FB661"/>
<circle cx="362.95" cy="269.32" r="2.35" fill="#5FB661"/>
<circle cx="350.78" cy="273.14" r="2.35" fill="#5FB661"/>
<circle cx="348.01" cy="276.96" r="2.35" fill="#5FB661"/>
<circle cx="347.09" cy="280.78" r="2.35" fill="#5FB661"/>
<circle cx="336.38" cy="284.60" r="2.35" fill="#5FB661"/>
<circle cx="336.02" cy="288.41" r="2.35" fill="#5FB661"/>
<circle cx="332.14" cy="292.23" r="2.35" fill="#5FB661"/>
<circle cx="331.59" cy="296.05" r="2.35" fill="#5FB661"/>
<circle cx="331.03" cy="299.87" r="2.35" fill="#5FB661"/>
<circle cx="329.56" cy="303.69" r="2.35" fill="#5FB661"/>
<circle cx="326.42" cy="307.50" r="2.35" fill="#5FB661"/>
<circle cx="325.13" cy="311.32" r="2.35" fill="#5FB661"/>
<circle cx="324.76" cy="315.14" r="2.35" fill="#5FB661"/>
<circle cx="323.84" cy="318.96" r="2.35" fill="#5FB661"/>
<circle cx="323.65" cy="322.78" r="2.35" fill="#5FB661"/>
<circle cx="323.28" cy="326.60" r="2.35" fill="#5FB661"/>
<circle cx="322.73" cy="330.41" r="2.35" fill="#5FB661"/>
<circle cx="319.23" cy="334.23" r="2.35" fill="#5FB661"/>
<circle cx="318.30" cy="338.05" r="2.35" fill="#B8953A"/>
<circle cx="314.43" cy="341.87" r="2.35" fill="#5FB661"/>
<circle cx="307.23" cy="345.69" r="2.35" fill="#5FB661"/>
<circle cx="304.28" cy="349.50" r="2.35" fill="#D9604A"/>
<circle cx="291.18" cy="353.32" r="2.35" fill="#D9604A"/>
<circle cx="290.63" cy="357.14" r="2.35" fill="#5FB661"/>
<circle cx="285.46" cy="360.96" r="2.35" fill="#5FB661"/>
<circle cx="280.11" cy="364.78" r="2.35" fill="#5FB661"/>
<circle cx="278.27" cy="368.59" r="2.35" fill="#ABABAB"/>
<circle cx="265.17" cy="372.41" r="2.35" fill="#5FB661"/>
<circle cx="258.53" cy="376.23" r="2.35" fill="#5FB661"/>
<circle cx="255.02" cy="380.05" r="2.35" fill="#5FB661"/>
<circle cx="252.07" cy="383.87" r="2.35" fill="#5FB661"/>
<circle cx="250.96" cy="387.68" r="2.35" fill="#D9604A"/>
<circle cx="250.04" cy="391.50" r="2.35" fill="#5FB661"/>
<circle cx="249.12" cy="395.32" r="2.35" fill="#D9604A"/>
<circle cx="242.84" cy="399.14" r="2.35" fill="#ABABAB"/>
<circle cx="242.47" cy="402.96" r="2.35" fill="#5FB661"/>
<circle cx="231.96" cy="406.77" r="2.35" fill="#5FB661"/>
<circle cx="229.93" cy="410.59" r="2.35" fill="#D9604A"/>
<circle cx="228.08" cy="414.41" r="2.35" fill="#5FB661"/>
<rect x="216.4" y="217.4" width="202.20000000000002" height="199.29999999999998" fill="none" stroke="#555" stroke-width="0.6"/>
<line x1="214.3" y1="219.69" x2="216.4" y2="219.69" stroke="#333" stroke-width="0.7"/>
<text x="213.8" y="221.59" font-size="5.4" fill="#333" text-anchor="end">254</text>
<line x1="214.3" y1="223.51" x2="216.4" y2="223.51" stroke="#333" stroke-width="0.7"/>
<text x="213.8" y="225.41" font-size="5.4" fill="#333" text-anchor="end">266</text>
<line x1="214.3" y1="227.33" x2="216.4" y2="227.33" stroke="#333" stroke-width="0.7"/>
<text x="213.8" y="229.23" font-size="5.4" fill="#333" text-anchor="end">255</text>
<line x1="214.3" y1="231.14" x2="216.4" y2="231.14" stroke="#333" stroke-width="0.7"/>
<text x="213.8" y="233.04" font-size="5.4" fill="#333" text-anchor="end">235</text>
<line x1="214.3" y1="234.96" x2="216.4" y2="234.96" stroke="#333" stroke-width="0.7"/>
<text x="213.8" y="236.86" font-size="5.4" fill="#333" text-anchor="end">274</text>
<line x1="214.3" y1="238.78" x2="216.4" y2="238.78" stroke="#333" stroke-width="0.7"/>
<text x="213.8" y="240.68" font-size="5.4" fill="#333" text-anchor="end">243</text>
<line x1="214.3" y1="242.60" x2="216.4" y2="242.60" stroke="#333" stroke-width="0.7"/>
<text x="213.8" y="244.50" font-size="5.4" fill="#333" text-anchor="end">247</text>
<line x1="214.3" y1="246.42" x2="216.4" y2="246.42" stroke="#333" stroke-width="0.7"/>
<text x="213.8" y="248.32" font-size="5.4" fill="#333" text-anchor="end">11</text>
<line x1="214.3" y1="250.23" x2="216.4" y2="250.23" stroke="#333" stroke-width="0.7"/>
<text x="213.8" y="252.13" font-size="5.4" fill="#333" text-anchor="end">8</text>
<line x1="214.3" y1="254.05" x2="216.4" y2="254.05" stroke="#333" stroke-width="0.7"/>
<text x="213.8" y="255.95" font-size="5.4" fill="#333" text-anchor="end">9</text>
<line x1="214.3" y1="257.87" x2="216.4" y2="257.87" stroke="#333" stroke-width="0.7"/>
<text x="213.8" y="259.77" font-size="5.4" fill="#333" text-anchor="end">3</text>
<line x1="214.3" y1="261.69" x2="216.4" y2="261.69" stroke="#333" stroke-width="0.7"/>
<text x="213.8" y="263.59" font-size="5.4" fill="#333" text-anchor="end">251</text>
<line x1="214.3" y1="265.51" x2="216.4" y2="265.51" stroke="#333" stroke-width="0.7"/>
<text x="213.8" y="267.41" font-size="5.4" fill="#333" text-anchor="end">90</text>
<line x1="214.3" y1="269.32" x2="216.4" y2="269.32" stroke="#333" stroke-width="0.7"/>
<text x="213.8" y="271.22" font-size="5.4" fill="#333" text-anchor="end">256</text>
<line x1="214.3" y1="273.14" x2="216.4" y2="273.14" stroke="#333" stroke-width="0.7"/>
<text x="213.8" y="275.04" font-size="5.4" fill="#333" text-anchor="end">218</text>
<line x1="214.3" y1="276.96" x2="216.4" y2="276.96" stroke="#333" stroke-width="0.7"/>
<text x="213.8" y="278.86" font-size="5.4" fill="#333" text-anchor="end">264</text>
<line x1="214.3" y1="280.78" x2="216.4" y2="280.78" stroke="#333" stroke-width="0.7"/>
<text x="213.8" y="282.68" font-size="5.4" fill="#333" text-anchor="end">9</text>
<line x1="214.3" y1="284.60" x2="216.4" y2="284.60" stroke="#333" stroke-width="0.7"/>
<text x="213.8" y="286.50" font-size="5.4" fill="#333" text-anchor="end">2</text>
<line x1="214.3" y1="288.41" x2="216.4" y2="288.41" stroke="#333" stroke-width="0.7"/>
<text x="213.8" y="290.31" font-size="5.4" fill="#333" text-anchor="end">27</text>
<line x1="214.3" y1="292.23" x2="216.4" y2="292.23" stroke="#333" stroke-width="0.7"/>
<text x="213.8" y="294.13" font-size="5.4" fill="#333" text-anchor="end">258</text>
<line x1="214.3" y1="296.05" x2="216.4" y2="296.05" stroke="#333" stroke-width="0.7"/>
<text x="213.8" y="297.95" font-size="5.4" fill="#333" text-anchor="end">272</text>
<line x1="214.3" y1="299.87" x2="216.4" y2="299.87" stroke="#333" stroke-width="0.7"/>
<text x="213.8" y="301.77" font-size="5.4" fill="#333" text-anchor="end">38</text>
<line x1="214.3" y1="303.69" x2="216.4" y2="303.69" stroke="#333" stroke-width="0.7"/>
<text x="213.8" y="305.59" font-size="5.4" fill="#333" text-anchor="end">263</text>
<line x1="214.3" y1="307.50" x2="216.4" y2="307.50" stroke="#333" stroke-width="0.7"/>
<text x="213.8" y="309.40" font-size="5.4" fill="#333" text-anchor="end">41</text>
<line x1="214.3" y1="311.32" x2="216.4" y2="311.32" stroke="#333" stroke-width="0.7"/>
<text x="213.8" y="313.22" font-size="5.4" fill="#333" text-anchor="end">28</text>
<line x1="214.3" y1="315.14" x2="216.4" y2="315.14" stroke="#333" stroke-width="0.7"/>
<text x="213.8" y="317.04" font-size="5.4" fill="#333" text-anchor="end">250</text>
<line x1="214.3" y1="318.96" x2="216.4" y2="318.96" stroke="#333" stroke-width="0.7"/>
<text x="213.8" y="320.86" font-size="5.4" fill="#333" text-anchor="end">12</text>
<line x1="214.3" y1="322.78" x2="216.4" y2="322.78" stroke="#333" stroke-width="0.7"/>
<text x="213.8" y="324.68" font-size="5.4" fill="#333" text-anchor="end">273</text>
<line x1="214.3" y1="326.60" x2="216.4" y2="326.60" stroke="#333" stroke-width="0.7"/>
<text x="213.8" y="328.50" font-size="5.4" fill="#333" text-anchor="end">37</text>
<line x1="214.3" y1="330.41" x2="216.4" y2="330.41" stroke="#333" stroke-width="0.7"/>
<text x="213.8" y="332.31" font-size="5.4" fill="#333" text-anchor="end">16</text>
<line x1="214.3" y1="334.23" x2="216.4" y2="334.23" stroke="#333" stroke-width="0.7"/>
<text x="213.8" y="336.13" font-size="5.4" fill="#333" text-anchor="end">94</text>
<line x1="214.3" y1="338.05" x2="216.4" y2="338.05" stroke="#333" stroke-width="0.7"/>
<text x="213.8" y="339.95" font-size="5.4" fill="#333" text-anchor="end">249</text>
<line x1="214.3" y1="341.87" x2="216.4" y2="341.87" stroke="#333" stroke-width="0.7"/>
<text x="213.8" y="343.77" font-size="5.4" fill="#333" text-anchor="end">269</text>
<line x1="214.3" y1="345.69" x2="216.4" y2="345.69" stroke="#333" stroke-width="0.7"/>
<text x="213.8" y="347.59" font-size="5.4" fill="#333" text-anchor="end">18</text>
<line x1="214.3" y1="349.50" x2="216.4" y2="349.50" stroke="#333" stroke-width="0.7"/>
<text x="213.8" y="351.40" font-size="5.4" fill="#333" text-anchor="end">273</text>
<line x1="214.3" y1="353.32" x2="216.4" y2="353.32" stroke="#333" stroke-width="0.7"/>
<text x="213.8" y="355.22" font-size="5.4" fill="#333" text-anchor="end">244</text>
<line x1="214.3" y1="357.14" x2="216.4" y2="357.14" stroke="#333" stroke-width="0.7"/>
<text x="213.8" y="359.04" font-size="5.4" fill="#333" text-anchor="end">4</text>
<line x1="214.3" y1="360.96" x2="216.4" y2="360.96" stroke="#333" stroke-width="0.7"/>
<text x="213.8" y="362.86" font-size="5.4" fill="#333" text-anchor="end">212</text>
<line x1="214.3" y1="364.78" x2="216.4" y2="364.78" stroke="#333" stroke-width="0.7"/>
<text x="213.8" y="366.68" font-size="5.4" fill="#333" text-anchor="end">31</text>
<line x1="214.3" y1="368.59" x2="216.4" y2="368.59" stroke="#333" stroke-width="0.7"/>
<text x="213.8" y="370.49" font-size="5.4" fill="#333" text-anchor="end">26</text>
<line x1="214.3" y1="372.41" x2="216.4" y2="372.41" stroke="#333" stroke-width="0.7"/>
<text x="213.8" y="374.31" font-size="5.4" fill="#333" text-anchor="end">209</text>
<line x1="214.3" y1="376.23" x2="216.4" y2="376.23" stroke="#333" stroke-width="0.7"/>
<text x="213.8" y="378.13" font-size="5.4" fill="#333" text-anchor="end">30</text>
<line x1="214.3" y1="380.05" x2="216.4" y2="380.05" stroke="#333" stroke-width="0.7"/>
<text x="213.8" y="381.95" font-size="5.4" fill="#333" text-anchor="end">34</text>
<line x1="214.3" y1="383.87" x2="216.4" y2="383.87" stroke="#333" stroke-width="0.7"/>
<text x="213.8" y="385.77" font-size="5.4" fill="#333" text-anchor="end">278</text>
<line x1="214.3" y1="387.68" x2="216.4" y2="387.68" stroke="#333" stroke-width="0.7"/>
<text x="213.8" y="389.58" font-size="5.4" fill="#333" text-anchor="end">292</text>
<line x1="214.3" y1="391.50" x2="216.4" y2="391.50" stroke="#333" stroke-width="0.7"/>
<text x="213.8" y="393.40" font-size="5.4" fill="#333" text-anchor="end">258</text>
<line x1="214.3" y1="395.32" x2="216.4" y2="395.32" stroke="#333" stroke-width="0.7"/>
<text x="213.8" y="397.22" font-size="5.4" fill="#333" text-anchor="end">312</text>
<line x1="214.3" y1="399.14" x2="216.4" y2="399.14" stroke="#333" stroke-width="0.7"/>
<text x="213.8" y="401.04" font-size="5.4" fill="#333" text-anchor="end">335</text>
<line x1="214.3" y1="402.96" x2="216.4" y2="402.96" stroke="#333" stroke-width="0.7"/>
<text x="213.8" y="404.86" font-size="5.4" fill="#333" text-anchor="end">336</text>
<line x1="214.3" y1="406.77" x2="216.4" y2="406.77" stroke="#333" stroke-width="0.7"/>
<text x="213.8" y="408.67" font-size="5.4" fill="#333" text-anchor="end">326</text>
<line x1="214.3" y1="410.59" x2="216.4" y2="410.59" stroke="#333" stroke-width="0.7"/>
<text x="213.8" y="412.49" font-size="5.4" fill="#333" text-anchor="end">288</text>
<line x1="214.3" y1="414.41" x2="216.4" y2="414.41" stroke="#333" stroke-width="0.7"/>
<text x="213.8" y="416.31" font-size="5.4" fill="#333" text-anchor="end">343</text>
<line x1="225.50" y1="416.7" x2="225.50" y2="418.5" stroke="#333" stroke-width="0.5"/>
<text x="225.50" y="423.00" font-size="5.5" fill="#4d4d4d" text-anchor="middle">0</text>
<line x1="262.40" y1="416.7" x2="262.40" y2="418.5" stroke="#333" stroke-width="0.5"/>
<text x="262.40" y="423.00" font-size="5.5" fill="#4d4d4d" text-anchor="middle">2</text>
<line x1="299.30" y1="416.7" x2="299.30" y2="418.5" stroke="#333" stroke-width="0.5"/>
<text x="299.30" y="423.00" font-size="5.5" fill="#4d4d4d" text-anchor="middle">4</text>
<line x1="323.28" y1="416.7" x2="323.28" y2="418.5" stroke="#333" stroke-width="0.5"/>
<text x="323.28" y="423.00" font-size="5.5" fill="#4d4d4d" text-anchor="middle">5.3</text>
<line x1="336.20" y1="416.7" x2="336.20" y2="418.5" stroke="#333" stroke-width="0.5"/>
<text x="336.20" y="423.00" font-size="5.5" fill="#4d4d4d" text-anchor="middle">6</text>
<line x1="373.10" y1="416.7" x2="373.10" y2="418.5" stroke="#333" stroke-width="0.5"/>
<text x="373.10" y="423.00" font-size="5.5" fill="#4d4d4d" text-anchor="middle">8</text>
<line x1="410.00" y1="416.7" x2="410.00" y2="418.5" stroke="#333" stroke-width="0.5"/>
<text x="410.00" y="423.00" font-size="5.5" fill="#4d4d4d" text-anchor="middle">10</text>
<text transform="translate(201.5,317) rotate(-90)" x="0" y="0" font-size="7.0" fill="#7FAF55" text-anchor="middle" textLength="29.7" lengthAdjust="spacingAndGlyphs">PB−DLBCL</text>
<rect x="216.4" y="436.5" width="202.20000000000002" height="167.5" fill="#EDD3C8"/>
<line x1="225.50" y1="436.5" x2="225.50" y2="604" stroke="#f6f6f6" stroke-width="0.55"/>
<line x1="262.40" y1="436.5" x2="262.40" y2="604" stroke="#f6f6f6" stroke-width="0.55"/>
<line x1="299.30" y1="436.5" x2="299.30" y2="604" stroke="#f6f6f6" stroke-width="0.55"/>
<line x1="336.20" y1="436.5" x2="336.20" y2="604" stroke="#f6f6f6" stroke-width="0.55"/>
<line x1="373.10" y1="436.5" x2="373.10" y2="604" stroke="#f6f6f6" stroke-width="0.55"/>
<line x1="410.00" y1="436.5" x2="410.00" y2="604" stroke="#f6f6f6" stroke-width="0.55"/>
<line x1="225.5" y1="439.44" x2="380.66" y2="439.44" stroke="#333" stroke-width="0.95"/>
<line x1="225.5" y1="444.34" x2="366.64" y2="444.34" stroke="#333" stroke-width="0.95"/>
<line x1="225.5" y1="449.23" x2="364.24" y2="449.23" stroke="#333" stroke-width="0.95"/>
<line x1="225.5" y1="454.13" x2="343.95" y2="454.13" stroke="#333" stroke-width="0.95"/>
<line x1="225.5" y1="459.03" x2="335.83" y2="459.03" stroke="#333" stroke-width="0.95"/>
<line x1="225.5" y1="463.93" x2="323.65" y2="463.93" stroke="#333" stroke-width="0.95"/>
<line x1="225.5" y1="468.82" x2="323.28" y2="468.82" stroke="#333" stroke-width="0.95"/>
<line x1="225.5" y1="473.72" x2="318.67" y2="473.72" stroke="#333" stroke-width="0.95"/>
<line x1="225.5" y1="478.62" x2="315.35" y2="478.62" stroke="#333" stroke-width="0.95"/>
<line x1="225.5" y1="483.52" x2="309.08" y2="483.52" stroke="#333" stroke-width="0.95"/>
<line x1="225.5" y1="488.42" x2="308.52" y2="488.42" stroke="#333" stroke-width="0.95"/>
<line x1="225.5" y1="493.31" x2="307.42" y2="493.31" stroke="#333" stroke-width="0.95"/>
<line x1="225.5" y1="498.21" x2="307.05" y2="498.21" stroke="#333" stroke-width="0.95"/>
<line x1="225.5" y1="503.11" x2="305.57" y2="503.11" stroke="#333" stroke-width="0.95"/>
<line x1="225.5" y1="508.01" x2="305.39" y2="508.01" stroke="#333" stroke-width="0.95"/>
<line x1="225.5" y1="512.90" x2="302.07" y2="512.90" stroke="#333" stroke-width="0.95"/>
<line x1="225.5" y1="517.80" x2="295.24" y2="517.80" stroke="#333" stroke-width="0.95"/>
<line x1="225.5" y1="522.70" x2="290.81" y2="522.70" stroke="#333" stroke-width="0.95"/>
<line x1="225.5" y1="527.60" x2="286.38" y2="527.60" stroke="#333" stroke-width="0.95"/>
<line x1="225.5" y1="532.49" x2="283.25" y2="532.49" stroke="#333" stroke-width="0.95"/>
<line x1="225.5" y1="537.39" x2="279.74" y2="537.39" stroke="#333" stroke-width="0.95"/>
<line x1="225.5" y1="542.29" x2="278.82" y2="542.29" stroke="#333" stroke-width="0.95"/>
<line x1="225.5" y1="547.19" x2="267.57" y2="547.19" stroke="#333" stroke-width="0.95"/>
<line x1="225.5" y1="552.08" x2="267.57" y2="552.08" stroke="#333" stroke-width="0.95"/>
<line x1="225.5" y1="556.98" x2="263.14" y2="556.98" stroke="#333" stroke-width="0.95"/>
<line x1="225.5" y1="561.88" x2="250.59" y2="561.88" stroke="#333" stroke-width="0.95"/>
<line x1="225.5" y1="566.78" x2="248.01" y2="566.78" stroke="#333" stroke-width="0.95"/>
<line x1="225.5" y1="571.68" x2="244.87" y2="571.68" stroke="#333" stroke-width="0.95"/>
<line x1="225.5" y1="576.57" x2="244.32" y2="576.57" stroke="#333" stroke-width="0.95"/>
<line x1="225.5" y1="581.47" x2="234.91" y2="581.47" stroke="#333" stroke-width="0.95"/>
<line x1="225.5" y1="586.37" x2="234.72" y2="586.37" stroke="#333" stroke-width="0.95"/>
<line x1="225.5" y1="591.27" x2="233.80" y2="591.27" stroke="#333" stroke-width="0.95"/>
<line x1="225.5" y1="596.16" x2="231.77" y2="596.16" stroke="#333" stroke-width="0.95"/>
<line x1="225.5" y1="601.06" x2="226.98" y2="601.06" stroke="#333" stroke-width="0.95"/>
<line x1="293.76" y1="436.5" x2="293.76" y2="604" stroke="#111" stroke-width="0.8" stroke-dasharray="2.6,1.6"/>
<circle cx="367.38" cy="439.44" r="2.35" fill="#B8953A"/>
<circle cx="380.66" cy="439.44" r="2.35" fill="#5FB661"/>
<circle cx="366.64" cy="444.34" r="2.35" fill="#5FB661"/>
<circle cx="364.24" cy="449.23" r="2.35" fill="#5FB661"/>
<circle cx="343.95" cy="454.13" r="2.35" fill="#5FB661"/>
<circle cx="335.83" cy="459.03" r="2.35" fill="#5FB661"/>
<circle cx="323.65" cy="463.93" r="2.35" fill="#5FB661"/>
<circle cx="323.28" cy="468.82" r="2.35" fill="#5FB661"/>
<circle cx="318.67" cy="473.72" r="2.35" fill="#5FB661"/>
<circle cx="315.35" cy="478.62" r="2.35" fill="#5FB661"/>
<circle cx="309.08" cy="483.52" r="2.35" fill="#5FB661"/>
<circle cx="308.52" cy="488.42" r="2.35" fill="#5FB661"/>
<circle cx="307.42" cy="493.31" r="2.35" fill="#5FB661"/>
<circle cx="307.05" cy="498.21" r="2.35" fill="#5FB661"/>
<circle cx="305.57" cy="503.11" r="2.35" fill="#5FB661"/>
<circle cx="305.39" cy="508.01" r="2.35" fill="#5FB661"/>
<circle cx="302.07" cy="512.90" r="2.35" fill="#5FB661"/>
<circle cx="295.24" cy="517.80" r="2.35" fill="#5FB661"/>
<circle cx="290.81" cy="522.70" r="2.35" fill="#5FB661"/>
<circle cx="286.38" cy="527.60" r="2.35" fill="#5FB661"/>
<circle cx="283.25" cy="532.49" r="2.35" fill="#5FB661"/>
<circle cx="279.74" cy="537.39" r="2.35" fill="#5FB661"/>
<circle cx="278.82" cy="542.29" r="2.35" fill="#5FB661"/>
<circle cx="267.57" cy="547.19" r="2.35" fill="#5FB661"/>
<circle cx="267.57" cy="552.08" r="2.35" fill="#5FB661"/>
<circle cx="263.14" cy="556.98" r="2.35" fill="#D9604A"/>
<circle cx="231.59" cy="561.88" r="2.35" fill="#B8953A"/>
<circle cx="250.59" cy="561.88" r="2.35" fill="#5FB661"/>
<circle cx="248.01" cy="566.78" r="2.35" fill="#5FB661"/>
<circle cx="244.87" cy="571.68" r="2.35" fill="#5FB661"/>
<circle cx="244.32" cy="576.57" r="2.35" fill="#ABABAB"/>
<circle cx="234.91" cy="581.47" r="2.35" fill="#5FB661"/>
<circle cx="234.72" cy="586.37" r="2.35" fill="#D9604A"/>
<circle cx="233.80" cy="591.27" r="2.35" fill="#5FB661"/>
<circle cx="231.77" cy="596.16" r="2.35" fill="#5FB661"/>
<circle cx="226.98" cy="601.06" r="2.35" fill="#D9604A"/>
<rect x="216.4" y="436.5" width="202.20000000000002" height="167.5" fill="none" stroke="#555" stroke-width="0.6"/>
<line x1="214.3" y1="439.44" x2="216.4" y2="439.44" stroke="#333" stroke-width="0.7"/>
<text x="213.8" y="441.34" font-size="5.4" fill="#333" text-anchor="end">182</text>
<line x1="214.3" y1="444.34" x2="216.4" y2="444.34" stroke="#333" stroke-width="0.7"/>
<text x="213.8" y="446.24" font-size="5.4" fill="#333" text-anchor="end">276</text>
<line x1="214.3" y1="449.23" x2="216.4" y2="449.23" stroke="#333" stroke-width="0.7"/>
<text x="213.8" y="451.13" font-size="5.4" fill="#333" text-anchor="end">299</text>
<line x1="214.3" y1="454.13" x2="216.4" y2="454.13" stroke="#333" stroke-width="0.7"/>
<text x="213.8" y="456.03" font-size="5.4" fill="#333" text-anchor="end">277</text>
<line x1="214.3" y1="459.03" x2="216.4" y2="459.03" stroke="#333" stroke-width="0.7"/>
<text x="213.8" y="460.93" font-size="5.4" fill="#333" text-anchor="end">289</text>
<line x1="214.3" y1="463.93" x2="216.4" y2="463.93" stroke="#333" stroke-width="0.7"/>
<text x="213.8" y="465.83" font-size="5.4" fill="#333" text-anchor="end">287</text>
<line x1="214.3" y1="468.82" x2="216.4" y2="468.82" stroke="#333" stroke-width="0.7"/>
<text x="213.8" y="470.72" font-size="5.4" fill="#333" text-anchor="end">45</text>
<line x1="214.3" y1="473.72" x2="216.4" y2="473.72" stroke="#333" stroke-width="0.7"/>
<text x="213.8" y="475.62" font-size="5.4" fill="#333" text-anchor="end">283</text>
<line x1="214.3" y1="478.62" x2="216.4" y2="478.62" stroke="#333" stroke-width="0.7"/>
<text x="213.8" y="480.52" font-size="5.4" fill="#333" text-anchor="end">294</text>
<line x1="214.3" y1="483.52" x2="216.4" y2="483.52" stroke="#333" stroke-width="0.7"/>
<text x="213.8" y="485.42" font-size="5.4" fill="#333" text-anchor="end">171</text>
<line x1="214.3" y1="488.42" x2="216.4" y2="488.42" stroke="#333" stroke-width="0.7"/>
<text x="213.8" y="490.32" font-size="5.4" fill="#333" text-anchor="end">247</text>
<line x1="214.3" y1="493.31" x2="216.4" y2="493.31" stroke="#333" stroke-width="0.7"/>
<text x="213.8" y="495.21" font-size="5.4" fill="#333" text-anchor="end">317</text>
<line x1="214.3" y1="498.21" x2="216.4" y2="498.21" stroke="#333" stroke-width="0.7"/>
<text x="213.8" y="500.11" font-size="5.4" fill="#333" text-anchor="end">175</text>
<line x1="214.3" y1="503.11" x2="216.4" y2="503.11" stroke="#333" stroke-width="0.7"/>
<text x="213.8" y="505.01" font-size="5.4" fill="#333" text-anchor="end">205</text>
<line x1="214.3" y1="508.01" x2="216.4" y2="508.01" stroke="#333" stroke-width="0.7"/>
<text x="213.8" y="509.91" font-size="5.4" fill="#333" text-anchor="end">192</text>
<line x1="214.3" y1="512.90" x2="216.4" y2="512.90" stroke="#333" stroke-width="0.7"/>
<text x="213.8" y="514.80" font-size="5.4" fill="#333" text-anchor="end">191</text>
<line x1="214.3" y1="517.80" x2="216.4" y2="517.80" stroke="#333" stroke-width="0.7"/>
<text x="213.8" y="519.70" font-size="5.4" fill="#333" text-anchor="end">227</text>
<line x1="214.3" y1="522.70" x2="216.4" y2="522.70" stroke="#333" stroke-width="0.7"/>
<text x="213.8" y="524.60" font-size="5.4" fill="#333" text-anchor="end">291</text>
<line x1="214.3" y1="527.60" x2="216.4" y2="527.60" stroke="#333" stroke-width="0.7"/>
<text x="213.8" y="529.50" font-size="5.4" fill="#333" text-anchor="end">320</text>
<line x1="214.3" y1="532.49" x2="216.4" y2="532.49" stroke="#333" stroke-width="0.7"/>
<text x="213.8" y="534.39" font-size="5.4" fill="#333" text-anchor="end">322</text>
<line x1="214.3" y1="537.39" x2="216.4" y2="537.39" stroke="#333" stroke-width="0.7"/>
<text x="213.8" y="539.29" font-size="5.4" fill="#333" text-anchor="end">246</text>
<line x1="214.3" y1="542.29" x2="216.4" y2="542.29" stroke="#333" stroke-width="0.7"/>
<text x="213.8" y="544.19" font-size="5.4" fill="#333" text-anchor="end">285</text>
<line x1="214.3" y1="547.19" x2="216.4" y2="547.19" stroke="#333" stroke-width="0.7"/>
<text x="213.8" y="549.09" font-size="5.4" fill="#333" text-anchor="end">278</text>
<line x1="214.3" y1="552.08" x2="216.4" y2="552.08" stroke="#333" stroke-width="0.7"/>
<text x="213.8" y="553.98" font-size="5.4" fill="#333" text-anchor="end">286</text>
<line x1="214.3" y1="556.98" x2="216.4" y2="556.98" stroke="#333" stroke-width="0.7"/>
<text x="213.8" y="558.88" font-size="5.4" fill="#333" text-anchor="end">206</text>
<line x1="214.3" y1="561.88" x2="216.4" y2="561.88" stroke="#333" stroke-width="0.7"/>
<text x="213.8" y="563.78" font-size="5.4" fill="#333" text-anchor="end">297</text>
<line x1="214.3" y1="566.78" x2="216.4" y2="566.78" stroke="#333" stroke-width="0.7"/>
<text x="213.8" y="568.68" font-size="5.4" fill="#333" text-anchor="end">288</text>
<line x1="214.3" y1="571.68" x2="216.4" y2="571.68" stroke="#333" stroke-width="0.7"/>
<text x="213.8" y="573.58" font-size="5.4" fill="#333" text-anchor="end">313</text>
<line x1="214.3" y1="576.57" x2="216.4" y2="576.57" stroke="#333" stroke-width="0.7"/>
<text x="213.8" y="578.47" font-size="5.4" fill="#333" text-anchor="end">314</text>
<line x1="214.3" y1="581.47" x2="216.4" y2="581.47" stroke="#333" stroke-width="0.7"/>
<text x="213.8" y="583.37" font-size="5.4" fill="#333" text-anchor="end">309</text>
<line x1="214.3" y1="586.37" x2="216.4" y2="586.37" stroke="#333" stroke-width="0.7"/>
<text x="213.8" y="588.27" font-size="5.4" fill="#333" text-anchor="end">315</text>
<line x1="214.3" y1="591.27" x2="216.4" y2="591.27" stroke="#333" stroke-width="0.7"/>
<text x="213.8" y="593.17" font-size="5.4" fill="#333" text-anchor="end">316</text>
<line x1="214.3" y1="596.16" x2="216.4" y2="596.16" stroke="#333" stroke-width="0.7"/>
<text x="213.8" y="598.06" font-size="5.4" fill="#333" text-anchor="end">312</text>
<line x1="214.3" y1="601.06" x2="216.4" y2="601.06" stroke="#333" stroke-width="0.7"/>
<text x="213.8" y="602.96" font-size="5.4" fill="#333" text-anchor="end">252</text>
<line x1="225.50" y1="604" x2="225.50" y2="605.8" stroke="#333" stroke-width="0.5"/>
<text x="225.50" y="611.00" font-size="5.5" fill="#4d4d4d" text-anchor="middle">0</text>
<line x1="262.40" y1="604" x2="262.40" y2="605.8" stroke="#333" stroke-width="0.5"/>
<text x="262.40" y="611.00" font-size="5.5" fill="#4d4d4d" text-anchor="middle">2</text>
<line x1="293.76" y1="604" x2="293.76" y2="605.8" stroke="#333" stroke-width="0.5"/>
<text x="293.76" y="611.00" font-size="5.5" fill="#4d4d4d" text-anchor="middle">3.7</text>
<line x1="336.20" y1="604" x2="336.20" y2="605.8" stroke="#333" stroke-width="0.5"/>
<text x="336.20" y="611.00" font-size="5.5" fill="#4d4d4d" text-anchor="middle">6</text>
<line x1="373.10" y1="604" x2="373.10" y2="605.8" stroke="#333" stroke-width="0.5"/>
<text x="373.10" y="611.00" font-size="5.5" fill="#4d4d4d" text-anchor="middle">8</text>
<line x1="410.00" y1="604" x2="410.00" y2="605.8" stroke="#333" stroke-width="0.5"/>
<text x="410.00" y="611.00" font-size="5.5" fill="#4d4d4d" text-anchor="middle">10</text>
<text transform="translate(201.5,519.9) rotate(-90)" x="0" y="0" font-size="7.0" fill="#D0714F" text-anchor="middle" textLength="60.8" lengthAdjust="spacingAndGlyphs">Nodal−DLBCL−GCB</text>
<text x="262.60" y="159.70" font-size="8.0" fill="#000" text-anchor="start" font-weight="normal" textLength="57.4" lengthAdjust="spacingAndGlyphs">Follow−up event</text>
<circle cx="268.6" cy="171.3" r="2.95" fill="#5FB661"/>
<text x="279.00" y="173.50" font-size="6.3" fill="#111" text-anchor="start" font-weight="normal" textLength="14.6" lengthAdjust="spacingAndGlyphs">Alive</text>
<circle cx="268.6" cy="183.8" r="2.95" fill="#D9604A"/>
<text x="279.00" y="186.00" font-size="6.3" fill="#111" text-anchor="start" font-weight="normal" textLength="65.8" lengthAdjust="spacingAndGlyphs">Death disease−related</text>
<circle cx="268.6" cy="196.4" r="2.95" fill="#ABABAB"/>
<text x="279.00" y="198.60" font-size="6.3" fill="#111" text-anchor="start" font-weight="normal" textLength="72.6" lengthAdjust="spacingAndGlyphs">Death disease−unrelated</text>
<circle cx="268.6" cy="208.8" r="2.95" fill="#B8953A"/>
<text x="279.00" y="211.00" font-size="6.3" fill="#111" text-anchor="start" font-weight="normal" textLength="23.5" lengthAdjust="spacingAndGlyphs">Relapse</text>
<text x="317.80" y="618.80" font-size="7.6" fill="#000" text-anchor="middle" font-weight="normal" textLength="85" lengthAdjust="spacingAndGlyphs">Time since diagnosis (Years)</text>
<path d="M496.20 6.40 H520.50 V12.90 H527.70 V20.20 H583.70 V28.80 H641.30 V39.00 H674.00" fill="none" stroke="#B36BCE" stroke-width="1.25"/>
<path d="M496.20 6.40 H504.50 V8.70 H529.20 V11.20 H541.90 V13.60 H544.50 V16.50 H598.30 V19.70 H622.20 V22.60 H647.50 V25.70 H674.00" fill="none" stroke="#6E9E45" stroke-width="1.25"/>
<path d="M496.20 6.40 H498.80 V10.20 H513.30 V14.00 H532.50 V18.20 H568.50 V22.70 H674.00" fill="none" stroke="#CF6A45" stroke-width="1.25"/>
<path d="M499.30 4.70 V7.60 M498.20 6.40 H500.40" stroke="#6E9E45" stroke-width="0.75"/>
<path d="M552.70 14.80 V17.70 M551.60 16.50 H553.80" stroke="#6E9E45" stroke-width="0.75"/>
<path d="M559.40 14.80 V17.70 M558.30 16.50 H560.50" stroke="#6E9E45" stroke-width="0.75"/>
<path d="M572.60 14.80 V17.70 M571.50 16.50 H573.70" stroke="#6E9E45" stroke-width="0.75"/>
<path d="M601.00 18.00 V20.90 M599.90 19.70 H602.10" stroke="#6E9E45" stroke-width="0.75"/>
<path d="M610.00 18.00 V20.90 M608.90 19.70 H611.10" stroke="#6E9E45" stroke-width="0.75"/>
<path d="M620.50 18.00 V20.90 M619.40 19.70 H621.60" stroke="#6E9E45" stroke-width="0.75"/>
<path d="M652.00 24.00 V26.90 M650.90 25.70 H653.10" stroke="#6E9E45" stroke-width="0.75"/>
<path d="M665.00 24.00 V26.90 M663.90 25.70 H666.10" stroke="#6E9E45" stroke-width="0.75"/>
<path d="M673.50 24.00 V26.90 M672.40 25.70 H674.60" stroke="#6E9E45" stroke-width="0.75"/>
<path d="M576.50 21.00 V23.90 M575.40 22.70 H577.60" stroke="#CF6A45" stroke-width="0.75"/>
<path d="M598.00 21.00 V23.90 M596.90 22.70 H599.10" stroke="#CF6A45" stroke-width="0.75"/>
<path d="M600.60 21.00 V23.90 M599.50 22.70 H601.70" stroke="#CF6A45" stroke-width="0.75"/>
<path d="M630.00 21.00 V23.90 M628.90 22.70 H631.10" stroke="#CF6A45" stroke-width="0.75"/>
<path d="M645.00 21.00 V23.90 M643.90 22.70 H646.10" stroke="#CF6A45" stroke-width="0.75"/>
<path d="M651.00 21.00 V23.90 M649.90 22.70 H652.10" stroke="#CF6A45" stroke-width="0.75"/>
<path d="M655.00 21.00 V23.90 M653.90 22.70 H656.10" stroke="#CF6A45" stroke-width="0.75"/>
<path d="M667.00 21.00 V23.90 M665.90 22.70 H668.10" stroke="#CF6A45" stroke-width="0.75"/>
<path d="M672.00 21.00 V23.90 M670.90 22.70 H673.10" stroke="#CF6A45" stroke-width="0.75"/>
<path d="M508.00 4.70 V7.60 M506.90 6.40 H509.10" stroke="#B36BCE" stroke-width="0.75"/>
<path d="M524.00 11.20 V14.10 M522.90 12.90 H525.10" stroke="#B36BCE" stroke-width="0.75"/>
<path d="M605.00 27.10 V30.00 M603.90 28.80 H606.10" stroke="#B36BCE" stroke-width="0.75"/>
<path d="M630.00 27.10 V30.00 M628.90 28.80 H631.10" stroke="#B36BCE" stroke-width="0.75"/>
<path d="M673.50 37.30 V40.20 M672.40 39.00 H674.60" stroke="#B36BCE" stroke-width="0.75"/>
<line x1="487.3" y1="0" x2="487.3" y2="140.9" stroke="#222" stroke-width="0.9"/>
<line x1="487.3" y1="140.9" x2="682.3" y2="140.9" stroke="#222" stroke-width="0.9"/>
<line x1="485.5" y1="6.40" x2="487.3" y2="6.40" stroke="#333" stroke-width="0.5"/>
<text x="484.70" y="8.00" font-size="4.5" fill="#555" text-anchor="end" font-weight="normal" >1.00</text>
<line x1="485.5" y1="38.40" x2="487.3" y2="38.40" stroke="#333" stroke-width="0.5"/>
<text x="484.70" y="40.00" font-size="4.5" fill="#555" text-anchor="end" font-weight="normal" >0.75</text>
<line x1="485.5" y1="70.40" x2="487.3" y2="70.40" stroke="#333" stroke-width="0.5"/>
<text x="484.70" y="72.00" font-size="4.5" fill="#555" text-anchor="end" font-weight="normal" >0.50</text>
<line x1="485.5" y1="102.40" x2="487.3" y2="102.40" stroke="#333" stroke-width="0.5"/>
<text x="484.70" y="104.00" font-size="4.5" fill="#555" text-anchor="end" font-weight="normal" >0.25</text>
<line x1="485.5" y1="134.40" x2="487.3" y2="134.40" stroke="#333" stroke-width="0.5"/>
<text x="484.70" y="136.00" font-size="4.5" fill="#555" text-anchor="end" font-weight="normal" >0.00</text>
<line x1="496.20" y1="140.9" x2="496.20" y2="142.70000000000002" stroke="#333" stroke-width="0.5"/>
<text x="496.20" y="146.60" font-size="4.5" fill="#666" text-anchor="middle" font-weight="normal" >0</text>
<line x1="531.60" y1="140.9" x2="531.60" y2="142.70000000000002" stroke="#333" stroke-width="0.5"/>
<text x="531.60" y="146.60" font-size="4.5" fill="#666" text-anchor="middle" font-weight="normal" >1</text>
<line x1="567.00" y1="140.9" x2="567.00" y2="142.70000000000002" stroke="#333" stroke-width="0.5"/>
<text x="567.00" y="146.60" font-size="4.5" fill="#666" text-anchor="middle" font-weight="normal" >2</text>
<line x1="602.40" y1="140.9" x2="602.40" y2="142.70000000000002" stroke="#333" stroke-width="0.5"/>
<text x="602.40" y="146.60" font-size="4.5" fill="#666" text-anchor="middle" font-weight="normal" >3</text>
<line x1="637.80" y1="140.9" x2="637.80" y2="142.70000000000002" stroke="#333" stroke-width="0.5"/>
<text x="637.80" y="146.60" font-size="4.5" fill="#666" text-anchor="middle" font-weight="normal" >4</text>
<line x1="673.20" y1="140.9" x2="673.20" y2="142.70000000000002" stroke="#333" stroke-width="0.5"/>
<text x="673.20" y="146.60" font-size="4.5" fill="#666" text-anchor="middle" font-weight="normal" >5</text>
<text x="584.80" y="153.00" font-size="5.6" fill="#111" text-anchor="middle" font-weight="normal" textLength="70" lengthAdjust="spacingAndGlyphs">Time since diagnosis (Years)</text>
<text transform="translate(462.4,70.6) rotate(-90)" font-size="5.9" fill="#111" text-anchor="middle" textLength="47.7" lengthAdjust="spacingAndGlyphs">Overall survival (%)</text>
<text x="499.60" y="111.90" font-size="7.2" fill="#111" text-anchor="start" font-weight="normal" textLength="25.6" lengthAdjust="spacingAndGlyphs">p = 0.64</text>
<text x="488.00" y="164.20" font-size="7.2" fill="#111" text-anchor="start" font-weight="normal" textLength="41" lengthAdjust="spacingAndGlyphs">Number at risk</text>
<line x1="487.3" y1="168" x2="487.3" y2="200.7" stroke="#222" stroke-width="0.9"/>
<line x1="487.3" y1="200.7" x2="682.3" y2="200.7" stroke="#222" stroke-width="0.9"/>
<line x1="485.5" y1="174.4" x2="487.3" y2="174.4" stroke="#333" stroke-width="0.5"/>
<text x="483.90" y="176.00" font-size="4.6" fill="#B873D6" text-anchor="end" font-weight="normal" textLength="37.4" lengthAdjust="spacingAndGlyphs">Polyostotic−DLBCL</text>
<text x="496.20" y="176.80" font-size="6.6" fill="#111" text-anchor="middle" font-weight="normal" stroke="#111" stroke-width="0.18">20</text>
<text x="531.60" y="176.80" font-size="6.6" fill="#111" text-anchor="middle" font-weight="normal" stroke="#111" stroke-width="0.18">16</text>
<text x="567.00" y="176.80" font-size="6.6" fill="#111" text-anchor="middle" font-weight="normal" stroke="#111" stroke-width="0.18">13</text>
<text x="602.40" y="176.80" font-size="6.6" fill="#111" text-anchor="middle" font-weight="normal" stroke="#111" stroke-width="0.18">12</text>
<text x="637.80" y="176.80" font-size="6.6" fill="#111" text-anchor="middle" font-weight="normal" stroke="#111" stroke-width="0.18">10</text>
<text x="673.20" y="176.80" font-size="6.6" fill="#111" text-anchor="middle" font-weight="normal" stroke="#111" stroke-width="0.18">9</text>
<line x1="485.5" y1="184.4" x2="487.3" y2="184.4" stroke="#333" stroke-width="0.5"/>
<text x="483.90" y="186.00" font-size="4.6" fill="#7FAF55" text-anchor="end" font-weight="normal" textLength="22.4" lengthAdjust="spacingAndGlyphs">PB−DLBCL</text>
<text x="496.20" y="186.80" font-size="6.6" fill="#111" text-anchor="middle" font-weight="normal" stroke="#111" stroke-width="0.18">52</text>
<text x="531.60" y="186.80" font-size="6.6" fill="#111" text-anchor="middle" font-weight="normal" stroke="#111" stroke-width="0.18">47</text>
<text x="567.00" y="186.80" font-size="6.6" fill="#111" text-anchor="middle" font-weight="normal" stroke="#111" stroke-width="0.18">41</text>
<text x="602.40" y="186.80" font-size="6.6" fill="#111" text-anchor="middle" font-weight="normal" stroke="#111" stroke-width="0.18">38</text>
<text x="637.80" y="186.80" font-size="6.6" fill="#111" text-anchor="middle" font-weight="normal" stroke="#111" stroke-width="0.18">35</text>
<text x="673.20" y="186.80" font-size="6.6" fill="#111" text-anchor="middle" font-weight="normal" stroke="#111" stroke-width="0.18">32</text>
<line x1="485.5" y1="194.4" x2="487.3" y2="194.4" stroke="#333" stroke-width="0.5"/>
<text x="483.90" y="196.00" font-size="4.6" fill="#D0714F" text-anchor="end" font-weight="normal" textLength="38.8" lengthAdjust="spacingAndGlyphs">Nodal DLBCL−GCB</text>
<text x="496.20" y="196.80" font-size="6.6" fill="#111" text-anchor="middle" font-weight="normal" stroke="#111" stroke-width="0.18">34</text>
<text x="531.60" y="196.80" font-size="6.6" fill="#111" text-anchor="middle" font-weight="normal" stroke="#111" stroke-width="0.18">29</text>
<text x="567.00" y="196.80" font-size="6.6" fill="#111" text-anchor="middle" font-weight="normal" stroke="#111" stroke-width="0.18">25</text>
<text x="602.40" y="196.80" font-size="6.6" fill="#111" text-anchor="middle" font-weight="normal" stroke="#111" stroke-width="0.18">20</text>
<text x="637.80" y="196.80" font-size="6.6" fill="#111" text-anchor="middle" font-weight="normal" stroke="#111" stroke-width="0.18">16</text>
<text x="673.20" y="196.80" font-size="6.6" fill="#111" text-anchor="middle" font-weight="normal" stroke="#111" stroke-width="0.18">8</text>
<line x1="496.20" y1="200.7" x2="496.20" y2="202.5" stroke="#333" stroke-width="0.5"/>
<text x="496.20" y="206.30" font-size="4.5" fill="#666" text-anchor="middle" font-weight="normal" >0</text>
<line x1="531.60" y1="200.7" x2="531.60" y2="202.5" stroke="#333" stroke-width="0.5"/>
<text x="531.60" y="206.30" font-size="4.5" fill="#666" text-anchor="middle" font-weight="normal" >1</text>
<line x1="567.00" y1="200.7" x2="567.00" y2="202.5" stroke="#333" stroke-width="0.5"/>
<text x="567.00" y="206.30" font-size="4.5" fill="#666" text-anchor="middle" font-weight="normal" >2</text>
<line x1="602.40" y1="200.7" x2="602.40" y2="202.5" stroke="#333" stroke-width="0.5"/>
<text x="602.40" y="206.30" font-size="4.5" fill="#666" text-anchor="middle" font-weight="normal" >3</text>
<line x1="637.80" y1="200.7" x2="637.80" y2="202.5" stroke="#333" stroke-width="0.5"/>
<text x="637.80" y="206.30" font-size="4.5" fill="#666" text-anchor="middle" font-weight="normal" >4</text>
<line x1="673.20" y1="200.7" x2="673.20" y2="202.5" stroke="#333" stroke-width="0.5"/>
<text x="673.20" y="206.30" font-size="4.5" fill="#666" text-anchor="middle" font-weight="normal" >5</text>
<path d="M496.20 219.40 H510.00 V225.50 H521.30 V231.90 H561.80 V241.00 H579.80 V250.00 H641.50 V259.30 H674.00" fill="none" stroke="#B36BCE" stroke-width="1.25"/>
<path d="M496.20 219.40 H504.30 V221.40 H529.20 V224.00 H541.90 V226.20 H544.50 V229.00 H598.60 V232.10 H622.30 V235.10 H647.90 V238.20 H674.00" fill="none" stroke="#6E9E45" stroke-width="1.25"/>
<path d="M496.20 219.40 H498.80 V223.10 H507.80 V226.20 H513.30 V230.60 H531.80 V234.80 H563.80 V239.20 H674.00" fill="none" stroke="#CF6A45" stroke-width="1.25"/>
<path d="M499.30 217.70 V220.60 M498.20 219.40 H500.40" stroke="#6E9E45" stroke-width="0.75"/>
<path d="M552.70 227.30 V230.20 M551.60 229.00 H553.80" stroke="#6E9E45" stroke-width="0.75"/>
<path d="M559.40 227.30 V230.20 M558.30 229.00 H560.50" stroke="#6E9E45" stroke-width="0.75"/>
<path d="M572.60 227.30 V230.20 M571.50 229.00 H573.70" stroke="#6E9E45" stroke-width="0.75"/>
<path d="M601.00 230.40 V233.30 M599.90 232.10 H602.10" stroke="#6E9E45" stroke-width="0.75"/>
<path d="M611.00 230.40 V233.30 M609.90 232.10 H612.10" stroke="#6E9E45" stroke-width="0.75"/>
<path d="M620.50 230.40 V233.30 M619.40 232.10 H621.60" stroke="#6E9E45" stroke-width="0.75"/>
<path d="M652.00 236.50 V239.40 M650.90 238.20 H653.10" stroke="#6E9E45" stroke-width="0.75"/>
<path d="M665.00 236.50 V239.40 M663.90 238.20 H666.10" stroke="#6E9E45" stroke-width="0.75"/>
<path d="M673.50 236.50 V239.40 M672.40 238.20 H674.60" stroke="#6E9E45" stroke-width="0.75"/>
<path d="M576.50 237.50 V240.40 M575.40 239.20 H577.60" stroke="#CF6A45" stroke-width="0.75"/>
<path d="M598.00 237.50 V240.40 M596.90 239.20 H599.10" stroke="#CF6A45" stroke-width="0.75"/>
<path d="M600.60 237.50 V240.40 M599.50 239.20 H601.70" stroke="#CF6A45" stroke-width="0.75"/>
<path d="M607.00 237.50 V240.40 M605.90 239.20 H608.10" stroke="#CF6A45" stroke-width="0.75"/>
<path d="M615.00 237.50 V240.40 M613.90 239.20 H616.10" stroke="#CF6A45" stroke-width="0.75"/>
<path d="M630.00 237.50 V240.40 M628.90 239.20 H631.10" stroke="#CF6A45" stroke-width="0.75"/>
<path d="M645.00 237.50 V240.40 M643.90 239.20 H646.10" stroke="#CF6A45" stroke-width="0.75"/>
<path d="M651.00 237.50 V240.40 M649.90 239.20 H652.10" stroke="#CF6A45" stroke-width="0.75"/>
<path d="M655.00 237.50 V240.40 M653.90 239.20 H656.10" stroke="#CF6A45" stroke-width="0.75"/>
<path d="M667.00 237.50 V240.40 M665.90 239.20 H668.10" stroke="#CF6A45" stroke-width="0.75"/>
<path d="M672.00 237.50 V240.40 M670.90 239.20 H673.10" stroke="#CF6A45" stroke-width="0.75"/>
<path d="M513.00 223.80 V226.70 M511.90 225.50 H514.10" stroke="#B36BCE" stroke-width="0.75"/>
<path d="M605.00 248.30 V251.20 M603.90 250.00 H606.10" stroke="#B36BCE" stroke-width="0.75"/>
<path d="M673.50 257.60 V260.50 M672.40 259.30 H674.60" stroke="#B36BCE" stroke-width="0.75"/>
<line x1="487.3" y1="213" x2="487.3" y2="353.9" stroke="#222" stroke-width="0.9"/>
<line x1="487.3" y1="353.9" x2="682.3" y2="353.9" stroke="#222" stroke-width="0.9"/>
<line x1="485.5" y1="219.40" x2="487.3" y2="219.40" stroke="#333" stroke-width="0.5"/>
<text x="484.70" y="221.00" font-size="4.5" fill="#555" text-anchor="end" font-weight="normal" >1.00</text>
<line x1="485.5" y1="251.40" x2="487.3" y2="251.40" stroke="#333" stroke-width="0.5"/>
<text x="484.70" y="253.00" font-size="4.5" fill="#555" text-anchor="end" font-weight="normal" >0.75</text>
<line x1="485.5" y1="283.40" x2="487.3" y2="283.40" stroke="#333" stroke-width="0.5"/>
<text x="484.70" y="285.00" font-size="4.5" fill="#555" text-anchor="end" font-weight="normal" >0.50</text>
<line x1="485.5" y1="315.40" x2="487.3" y2="315.40" stroke="#333" stroke-width="0.5"/>
<text x="484.70" y="317.00" font-size="4.5" fill="#555" text-anchor="end" font-weight="normal" >0.25</text>
<line x1="485.5" y1="347.40" x2="487.3" y2="347.40" stroke="#333" stroke-width="0.5"/>
<text x="484.70" y="349.00" font-size="4.5" fill="#555" text-anchor="end" font-weight="normal" >0.00</text>
<line x1="496.20" y1="353.9" x2="496.20" y2="355.7" stroke="#333" stroke-width="0.5"/>
<text x="496.20" y="359.60" font-size="4.5" fill="#666" text-anchor="middle" font-weight="normal" >0</text>
<line x1="531.60" y1="353.9" x2="531.60" y2="355.7" stroke="#333" stroke-width="0.5"/>
<text x="531.60" y="359.60" font-size="4.5" fill="#666" text-anchor="middle" font-weight="normal" >1</text>
<line x1="567.00" y1="353.9" x2="567.00" y2="355.7" stroke="#333" stroke-width="0.5"/>
<text x="567.00" y="359.60" font-size="4.5" fill="#666" text-anchor="middle" font-weight="normal" >2</text>
<line x1="602.40" y1="353.9" x2="602.40" y2="355.7" stroke="#333" stroke-width="0.5"/>
<text x="602.40" y="359.60" font-size="4.5" fill="#666" text-anchor="middle" font-weight="normal" >3</text>
<line x1="637.80" y1="353.9" x2="637.80" y2="355.7" stroke="#333" stroke-width="0.5"/>
<text x="637.80" y="359.60" font-size="4.5" fill="#666" text-anchor="middle" font-weight="normal" >4</text>
<line x1="673.20" y1="353.9" x2="673.20" y2="355.7" stroke="#333" stroke-width="0.5"/>
<text x="673.20" y="359.60" font-size="4.5" fill="#666" text-anchor="middle" font-weight="normal" >5</text>
<text x="584.80" y="366.00" font-size="5.6" fill="#111" text-anchor="middle" font-weight="normal" textLength="70" lengthAdjust="spacingAndGlyphs">Time since diagnosis (Years)</text>
<text transform="translate(462.4,283.6) rotate(-90)" font-size="5.9" fill="#111" text-anchor="middle" textLength="71.5" lengthAdjust="spacingAndGlyphs">Progression−free survival (%)</text>
<text x="499.60" y="324.90" font-size="7.2" fill="#111" text-anchor="start" font-weight="normal" textLength="25.6" lengthAdjust="spacingAndGlyphs">p = 0.39</text>
<text x="488.00" y="377.20" font-size="7.2" fill="#111" text-anchor="start" font-weight="normal" textLength="41" lengthAdjust="spacingAndGlyphs">Number at risk</text>
<line x1="487.3" y1="381" x2="487.3" y2="413.7" stroke="#222" stroke-width="0.9"/>
<line x1="487.3" y1="413.7" x2="682.3" y2="413.7" stroke="#222" stroke-width="0.9"/>
<line x1="485.5" y1="387.4" x2="487.3" y2="387.4" stroke="#333" stroke-width="0.5"/>
<text x="483.90" y="389.00" font-size="4.6" fill="#B873D6" text-anchor="end" font-weight="normal" textLength="37.4" lengthAdjust="spacingAndGlyphs">Polyostotic−DLBCL</text>
<text x="496.20" y="389.80" font-size="6.6" fill="#111" text-anchor="middle" font-weight="normal" stroke="#111" stroke-width="0.18">20</text>
<text x="531.60" y="389.80" font-size="6.6" fill="#111" text-anchor="middle" font-weight="normal" stroke="#111" stroke-width="0.18">16</text>
<text x="567.00" y="389.80" font-size="6.6" fill="#111" text-anchor="middle" font-weight="normal" stroke="#111" stroke-width="0.18">12</text>
<text x="602.40" y="389.80" font-size="6.6" fill="#111" text-anchor="middle" font-weight="normal" stroke="#111" stroke-width="0.18">11</text>
<text x="637.80" y="389.80" font-size="6.6" fill="#111" text-anchor="middle" font-weight="normal" stroke="#111" stroke-width="0.18">10</text>
<text x="673.20" y="389.80" font-size="6.6" fill="#111" text-anchor="middle" font-weight="normal" stroke="#111" stroke-width="0.18">9</text>
<line x1="485.5" y1="397.4" x2="487.3" y2="397.4" stroke="#333" stroke-width="0.5"/>
<text x="483.90" y="399.00" font-size="4.6" fill="#7FAF55" text-anchor="end" font-weight="normal" textLength="22.4" lengthAdjust="spacingAndGlyphs">PB−DLBCL</text>
<text x="496.20" y="399.80" font-size="6.6" fill="#111" text-anchor="middle" font-weight="normal" stroke="#111" stroke-width="0.18">52</text>
<text x="531.60" y="399.80" font-size="6.6" fill="#111" text-anchor="middle" font-weight="normal" stroke="#111" stroke-width="0.18">47</text>
<text x="567.00" y="399.80" font-size="6.6" fill="#111" text-anchor="middle" font-weight="normal" stroke="#111" stroke-width="0.18">41</text>
<text x="602.40" y="399.80" font-size="6.6" fill="#111" text-anchor="middle" font-weight="normal" stroke="#111" stroke-width="0.18">38</text>
<text x="637.80" y="399.80" font-size="6.6" fill="#111" text-anchor="middle" font-weight="normal" stroke="#111" stroke-width="0.18">35</text>
<text x="673.20" y="399.80" font-size="6.6" fill="#111" text-anchor="middle" font-weight="normal" stroke="#111" stroke-width="0.18">32</text>
<line x1="485.5" y1="407.4" x2="487.3" y2="407.4" stroke="#333" stroke-width="0.5"/>
<text x="483.90" y="409.00" font-size="4.6" fill="#D0714F" text-anchor="end" font-weight="normal" textLength="38.8" lengthAdjust="spacingAndGlyphs">Nodal DLBCL−GCB</text>
<text x="496.20" y="409.80" font-size="6.6" fill="#111" text-anchor="middle" font-weight="normal" stroke="#111" stroke-width="0.18">34</text>
<text x="531.60" y="409.80" font-size="6.6" fill="#111" text-anchor="middle" font-weight="normal" stroke="#111" stroke-width="0.18">28</text>
<text x="567.00" y="409.80" font-size="6.6" fill="#111" text-anchor="middle" font-weight="normal" stroke="#111" stroke-width="0.18">24</text>
<text x="602.40" y="409.80" font-size="6.6" fill="#111" text-anchor="middle" font-weight="normal" stroke="#111" stroke-width="0.18">20</text>
<text x="637.80" y="409.80" font-size="6.6" fill="#111" text-anchor="middle" font-weight="normal" stroke="#111" stroke-width="0.18">16</text>
<text x="673.20" y="409.80" font-size="6.6" fill="#111" text-anchor="middle" font-weight="normal" stroke="#111" stroke-width="0.18">8</text>
<line x1="496.20" y1="413.7" x2="496.20" y2="415.5" stroke="#333" stroke-width="0.5"/>
<text x="496.20" y="419.30" font-size="4.5" fill="#666" text-anchor="middle" font-weight="normal" >0</text>
<line x1="531.60" y1="413.7" x2="531.60" y2="415.5" stroke="#333" stroke-width="0.5"/>
<text x="531.60" y="419.30" font-size="4.5" fill="#666" text-anchor="middle" font-weight="normal" >1</text>
<line x1="567.00" y1="413.7" x2="567.00" y2="415.5" stroke="#333" stroke-width="0.5"/>
<text x="567.00" y="419.30" font-size="4.5" fill="#666" text-anchor="middle" font-weight="normal" >2</text>
<line x1="602.40" y1="413.7" x2="602.40" y2="415.5" stroke="#333" stroke-width="0.5"/>
<text x="602.40" y="419.30" font-size="4.5" fill="#666" text-anchor="middle" font-weight="normal" >3</text>
<line x1="637.80" y1="413.7" x2="637.80" y2="415.5" stroke="#333" stroke-width="0.5"/>
<text x="637.80" y="419.30" font-size="4.5" fill="#666" text-anchor="middle" font-weight="normal" >4</text>
<line x1="673.20" y1="413.7" x2="673.20" y2="415.5" stroke="#333" stroke-width="0.5"/>
<text x="673.20" y="419.30" font-size="4.5" fill="#666" text-anchor="middle" font-weight="normal" >5</text>
<path d="M496.20 432.40 H520.40 V438.40 H641.50 V450.50 H674.00" fill="none" stroke="#B36BCE" stroke-width="1.25"/>
<path d="M496.20 432.40 H504.30 V434.60 H542.20 V436.80 H545.20 V439.40 H622.30 V442.80 H647.30 V446.30 H674.00" fill="none" stroke="#6E9E45" stroke-width="1.25"/>
<path d="M496.20 432.40 H498.40 V435.60 H513.00 V439.30 H568.50 V444.40 H674.00" fill="none" stroke="#CF6A45" stroke-width="1.25"/>
<path d="M499.30 430.70 V433.60 M498.20 432.40 H500.40" stroke="#6E9E45" stroke-width="0.75"/>
<path d="M528.00 432.90 V435.80 M526.90 434.60 H529.10" stroke="#6E9E45" stroke-width="0.75"/>
<path d="M552.70 437.70 V440.60 M551.60 439.40 H553.80" stroke="#6E9E45" stroke-width="0.75"/>
<path d="M559.40 437.70 V440.60 M558.30 439.40 H560.50" stroke="#6E9E45" stroke-width="0.75"/>
<path d="M572.60 437.70 V440.60 M571.50 439.40 H573.70" stroke="#6E9E45" stroke-width="0.75"/>
<path d="M601.00 441.10 V444.00 M599.90 442.80 H602.10" stroke="#6E9E45" stroke-width="0.75"/>
<path d="M611.00 441.10 V444.00 M609.90 442.80 H612.10" stroke="#6E9E45" stroke-width="0.75"/>
<path d="M652.00 444.60 V447.50 M650.90 446.30 H653.10" stroke="#6E9E45" stroke-width="0.75"/>
<path d="M665.00 444.60 V447.50 M663.90 446.30 H666.10" stroke="#6E9E45" stroke-width="0.75"/>
<path d="M673.50 444.60 V447.50 M672.40 446.30 H674.60" stroke="#6E9E45" stroke-width="0.75"/>
<path d="M504.00 433.90 V436.80 M502.90 435.60 H505.10" stroke="#CF6A45" stroke-width="0.75"/>
<path d="M525.00 437.60 V440.50 M523.90 439.30 H526.10" stroke="#CF6A45" stroke-width="0.75"/>
<path d="M535.00 437.60 V440.50 M533.90 439.30 H536.10" stroke="#CF6A45" stroke-width="0.75"/>
<path d="M576.50 442.70 V445.60 M575.40 444.40 H577.60" stroke="#CF6A45" stroke-width="0.75"/>
<path d="M598.00 442.70 V445.60 M596.90 444.40 H599.10" stroke="#CF6A45" stroke-width="0.75"/>
<path d="M600.60 442.70 V445.60 M599.50 444.40 H601.70" stroke="#CF6A45" stroke-width="0.75"/>
<path d="M607.00 442.70 V445.60 M605.90 444.40 H608.10" stroke="#CF6A45" stroke-width="0.75"/>
<path d="M630.00 442.70 V445.60 M628.90 444.40 H631.10" stroke="#CF6A45" stroke-width="0.75"/>
<path d="M645.00 442.70 V445.60 M643.90 444.40 H646.10" stroke="#CF6A45" stroke-width="0.75"/>
<path d="M651.00 442.70 V445.60 M649.90 444.40 H652.10" stroke="#CF6A45" stroke-width="0.75"/>
<path d="M667.00 442.70 V445.60 M665.90 444.40 H668.10" stroke="#CF6A45" stroke-width="0.75"/>
<path d="M672.00 442.70 V445.60 M670.90 444.40 H673.10" stroke="#CF6A45" stroke-width="0.75"/>
<path d="M513.00 430.70 V433.60 M511.90 432.40 H514.10" stroke="#B36BCE" stroke-width="0.75"/>
<path d="M529.00 436.70 V439.60 M527.90 438.40 H530.10" stroke="#B36BCE" stroke-width="0.75"/>
<path d="M535.00 436.70 V439.60 M533.90 438.40 H536.10" stroke="#B36BCE" stroke-width="0.75"/>
<path d="M584.00 436.70 V439.60 M582.90 438.40 H585.10" stroke="#B36BCE" stroke-width="0.75"/>
<path d="M596.00 436.70 V439.60 M594.90 438.40 H597.10" stroke="#B36BCE" stroke-width="0.75"/>
<path d="M631.00 436.70 V439.60 M629.90 438.40 H632.10" stroke="#B36BCE" stroke-width="0.75"/>
<path d="M673.50 448.80 V451.70 M672.40 450.50 H674.60" stroke="#B36BCE" stroke-width="0.75"/>
<line x1="487.3" y1="426" x2="487.3" y2="566.9" stroke="#222" stroke-width="0.9"/>
<line x1="487.3" y1="566.9" x2="682.3" y2="566.9" stroke="#222" stroke-width="0.9"/>
<line x1="485.5" y1="432.40" x2="487.3" y2="432.40" stroke="#333" stroke-width="0.5"/>
<text x="484.70" y="434.00" font-size="4.5" fill="#555" text-anchor="end" font-weight="normal" >1.00</text>
<line x1="485.5" y1="464.40" x2="487.3" y2="464.40" stroke="#333" stroke-width="0.5"/>
<text x="484.70" y="466.00" font-size="4.5" fill="#555" text-anchor="end" font-weight="normal" >0.75</text>
<line x1="485.5" y1="496.40" x2="487.3" y2="496.40" stroke="#333" stroke-width="0.5"/>
<text x="484.70" y="498.00" font-size="4.5" fill="#555" text-anchor="end" font-weight="normal" >0.50</text>
<line x1="485.5" y1="528.40" x2="487.3" y2="528.40" stroke="#333" stroke-width="0.5"/>
<text x="484.70" y="530.00" font-size="4.5" fill="#555" text-anchor="end" font-weight="normal" >0.25</text>
<line x1="485.5" y1="560.40" x2="487.3" y2="560.40" stroke="#333" stroke-width="0.5"/>
<text x="484.70" y="562.00" font-size="4.5" fill="#555" text-anchor="end" font-weight="normal" >0.00</text>
<line x1="496.20" y1="566.9" x2="496.20" y2="568.6999999999999" stroke="#333" stroke-width="0.5"/>
<text x="496.20" y="572.60" font-size="4.5" fill="#666" text-anchor="middle" font-weight="normal" >0</text>
<line x1="531.60" y1="566.9" x2="531.60" y2="568.6999999999999" stroke="#333" stroke-width="0.5"/>
<text x="531.60" y="572.60" font-size="4.5" fill="#666" text-anchor="middle" font-weight="normal" >1</text>
<line x1="567.00" y1="566.9" x2="567.00" y2="568.6999999999999" stroke="#333" stroke-width="0.5"/>
<text x="567.00" y="572.60" font-size="4.5" fill="#666" text-anchor="middle" font-weight="normal" >2</text>
<line x1="602.40" y1="566.9" x2="602.40" y2="568.6999999999999" stroke="#333" stroke-width="0.5"/>
<text x="602.40" y="572.60" font-size="4.5" fill="#666" text-anchor="middle" font-weight="normal" >3</text>
<line x1="637.80" y1="566.9" x2="637.80" y2="568.6999999999999" stroke="#333" stroke-width="0.5"/>
<text x="637.80" y="572.60" font-size="4.5" fill="#666" text-anchor="middle" font-weight="normal" >4</text>
<line x1="673.20" y1="566.9" x2="673.20" y2="568.6999999999999" stroke="#333" stroke-width="0.5"/>
<text x="673.20" y="572.60" font-size="4.5" fill="#666" text-anchor="middle" font-weight="normal" >5</text>
<text x="584.80" y="579.00" font-size="5.6" fill="#111" text-anchor="middle" font-weight="normal" textLength="70" lengthAdjust="spacingAndGlyphs">Time since diagnosis (Years)</text>
<text transform="translate(462.4,496.6) rotate(-90)" font-size="5.9" fill="#111" text-anchor="middle" textLength="70.3" lengthAdjust="spacingAndGlyphs">Disease−specific survival (%)</text>
<text x="499.60" y="537.90" font-size="7.2" fill="#111" text-anchor="start" font-weight="normal" textLength="25.6" lengthAdjust="spacingAndGlyphs">p = 0.97</text>
<text x="488.00" y="590.20" font-size="7.2" fill="#111" text-anchor="start" font-weight="normal" textLength="41" lengthAdjust="spacingAndGlyphs">Number at risk</text>
<line x1="487.3" y1="594" x2="487.3" y2="626.7" stroke="#222" stroke-width="0.9"/>
<line x1="487.3" y1="626.7" x2="682.3" y2="626.7" stroke="#222" stroke-width="0.9"/>
<line x1="485.5" y1="600.4" x2="487.3" y2="600.4" stroke="#333" stroke-width="0.5"/>
<text x="483.90" y="602.00" font-size="4.6" fill="#B873D6" text-anchor="end" font-weight="normal" textLength="37.4" lengthAdjust="spacingAndGlyphs">Polyostotic−DLBCL</text>
<text x="496.20" y="602.80" font-size="6.6" fill="#111" text-anchor="middle" font-weight="normal" stroke="#111" stroke-width="0.18">20</text>
<text x="531.60" y="602.80" font-size="6.6" fill="#111" text-anchor="middle" font-weight="normal" stroke="#111" stroke-width="0.18">16</text>
<text x="567.00" y="602.80" font-size="6.6" fill="#111" text-anchor="middle" font-weight="normal" stroke="#111" stroke-width="0.18">13</text>
<text x="602.40" y="602.80" font-size="6.6" fill="#111" text-anchor="middle" font-weight="normal" stroke="#111" stroke-width="0.18">12</text>
<text x="637.80" y="602.80" font-size="6.6" fill="#111" text-anchor="middle" font-weight="normal" stroke="#111" stroke-width="0.18">10</text>
<text x="673.20" y="602.80" font-size="6.6" fill="#111" text-anchor="middle" font-weight="normal" stroke="#111" stroke-width="0.18">9</text>
<line x1="485.5" y1="610.4" x2="487.3" y2="610.4" stroke="#333" stroke-width="0.5"/>
<text x="483.90" y="612.00" font-size="4.6" fill="#7FAF55" text-anchor="end" font-weight="normal" textLength="22.4" lengthAdjust="spacingAndGlyphs">PB−DLBCL</text>
<text x="496.20" y="612.80" font-size="6.6" fill="#111" text-anchor="middle" font-weight="normal" stroke="#111" stroke-width="0.18">52</text>
<text x="531.60" y="612.80" font-size="6.6" fill="#111" text-anchor="middle" font-weight="normal" stroke="#111" stroke-width="0.18">47</text>
<text x="567.00" y="612.80" font-size="6.6" fill="#111" text-anchor="middle" font-weight="normal" stroke="#111" stroke-width="0.18">41</text>
<text x="602.40" y="612.80" font-size="6.6" fill="#111" text-anchor="middle" font-weight="normal" stroke="#111" stroke-width="0.18">38</text>
<text x="637.80" y="612.80" font-size="6.6" fill="#111" text-anchor="middle" font-weight="normal" stroke="#111" stroke-width="0.18">35</text>
<text x="673.20" y="612.80" font-size="6.6" fill="#111" text-anchor="middle" font-weight="normal" stroke="#111" stroke-width="0.18">32</text>
<line x1="485.5" y1="620.4" x2="487.3" y2="620.4" stroke="#333" stroke-width="0.5"/>
<text x="483.90" y="622.00" font-size="4.6" fill="#D0714F" text-anchor="end" font-weight="normal" textLength="38.8" lengthAdjust="spacingAndGlyphs">Nodal DLBCL−GCB</text>
<text x="496.20" y="622.80" font-size="6.6" fill="#111" text-anchor="middle" font-weight="normal" stroke="#111" stroke-width="0.18">34</text>
<text x="531.60" y="622.80" font-size="6.6" fill="#111" text-anchor="middle" font-weight="normal" stroke="#111" stroke-width="0.18">29</text>
<text x="567.00" y="622.80" font-size="6.6" fill="#111" text-anchor="middle" font-weight="normal" stroke="#111" stroke-width="0.18">25</text>
<text x="602.40" y="622.80" font-size="6.6" fill="#111" text-anchor="middle" font-weight="normal" stroke="#111" stroke-width="0.18">20</text>
<text x="637.80" y="622.80" font-size="6.6" fill="#111" text-anchor="middle" font-weight="normal" stroke="#111" stroke-width="0.18">16</text>
<text x="673.20" y="622.80" font-size="6.6" fill="#111" text-anchor="middle" font-weight="normal" stroke="#111" stroke-width="0.18">8</text>
<line x1="496.20" y1="626.7" x2="496.20" y2="628.5" stroke="#333" stroke-width="0.5"/>
<text x="496.20" y="632.30" font-size="4.5" fill="#666" text-anchor="middle" font-weight="normal" >0</text>
<line x1="531.60" y1="626.7" x2="531.60" y2="628.5" stroke="#333" stroke-width="0.5"/>
<text x="531.60" y="632.30" font-size="4.5" fill="#666" text-anchor="middle" font-weight="normal" >1</text>
<line x1="567.00" y1="626.7" x2="567.00" y2="628.5" stroke="#333" stroke-width="0.5"/>
<text x="567.00" y="632.30" font-size="4.5" fill="#666" text-anchor="middle" font-weight="normal" >2</text>
<line x1="602.40" y1="626.7" x2="602.40" y2="628.5" stroke="#333" stroke-width="0.5"/>
<text x="602.40" y="632.30" font-size="4.5" fill="#666" text-anchor="middle" font-weight="normal" >3</text>
<line x1="637.80" y1="626.7" x2="637.80" y2="628.5" stroke="#333" stroke-width="0.5"/>
<text x="637.80" y="632.30" font-size="4.5" fill="#666" text-anchor="middle" font-weight="normal" >4</text>
<line x1="673.20" y1="626.7" x2="673.20" y2="628.5" stroke="#333" stroke-width="0.5"/>
<text x="673.20" y="632.30" font-size="4.5" fill="#666" text-anchor="middle" font-weight="normal" >5</text>
</svg>
</body></html>
